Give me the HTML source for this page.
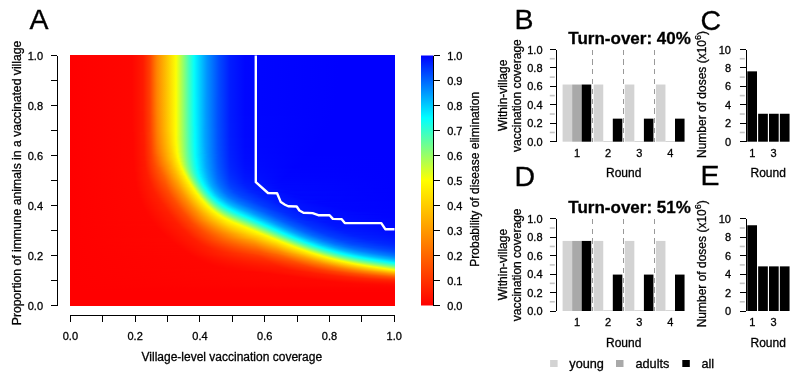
<!DOCTYPE html>
<html><head><meta charset="utf-8"><style>
html,body{margin:0;padding:0;background:#fff;width:800px;height:377px;overflow:hidden}
#hm{position:absolute;left:70px;top:55.2px;width:324.5px;height:250.4px;overflow:hidden}
#hm i{position:absolute;left:0;width:100%;display:block}
svg{position:absolute;left:0;top:0;will-change:transform}
text{font-family:"Liberation Sans",sans-serif;fill:#000;stroke:#000;stroke-width:0.3px}
</style></head><body>
<div id="hm"><i style="top:0px;height:1px;background:linear-gradient(90deg,#ff0000 0px,#ff0600 62px,#ff1a00 73px,#ff4100 80px,#ff7300 85px,#ff8500 87px,#fcff03 106px,#43ffbc 119px,#06fff9 124px,#00e6ff 127px,#0093ff 137px,#004aff 149px,#001cff 160px,#0006ff 175px,#0000ff 270px,#0000ff 324.5px)"></i><i style="top:1px;height:1px;background:linear-gradient(90deg,#ff0000 0px,#ff0600 62px,#ff1a00 73px,#ff4100 80px,#ff7300 85px,#ff8500 87px,#fcff03 106px,#43ffbc 119px,#06fff9 124px,#00e6ff 127px,#0093ff 137px,#004aff 149px,#001cff 160px,#0006ff 175px,#0000ff 270px,#0000ff 324.5px)"></i><i style="top:2px;height:1px;background:linear-gradient(90deg,#ff0000 0px,#ff0600 62px,#ff1a00 73px,#ff4100 80px,#ff7300 85px,#ff8500 87px,#fcff03 106px,#43ffbc 119px,#06fff9 124px,#00e6ff 127px,#0093ff 137px,#004aff 149px,#001cff 160px,#0006ff 175px,#0000ff 270px,#0000ff 324.5px)"></i><i style="top:3px;height:1px;background:linear-gradient(90deg,#ff0000 0px,#ff0600 62px,#ff1a00 73px,#ff4100 80px,#ff7300 85px,#ff8500 87px,#fcff03 106px,#43ffbc 119px,#06fff9 124px,#00e6ff 127px,#0093ff 137px,#004aff 149px,#001cff 160px,#0006ff 175px,#0000ff 270px,#0000ff 324.5px)"></i><i style="top:4px;height:1px;background:linear-gradient(90deg,#ff0000 0px,#ff0600 62px,#ff1a00 73px,#ff4100 80px,#ff7300 85px,#ff8500 87px,#fcff03 106px,#43ffbc 119px,#06fff9 124px,#00e6ff 127px,#0093ff 137px,#004aff 149px,#001cff 160px,#0006ff 175px,#0000ff 270px,#0000ff 324.5px)"></i><i style="top:5px;height:1px;background:linear-gradient(90deg,#ff0000 0px,#ff0600 62px,#ff1a00 73px,#ff4100 80px,#ff7300 85px,#ff8500 87px,#fcff03 106px,#43ffbc 119px,#06fff9 124px,#00e6ff 127px,#0093ff 137px,#004aff 149px,#001cff 160px,#0006ff 175px,#0000ff 270px,#0000ff 324.5px)"></i><i style="top:6px;height:1px;background:linear-gradient(90deg,#ff0000 0px,#ff0600 62px,#ff1a00 73px,#ff4100 80px,#ff7300 85px,#ff8500 87px,#fcff03 106px,#43ffbc 119px,#06fff9 124px,#00e6ff 127px,#0093ff 137px,#004aff 149px,#001cff 160px,#0006ff 175px,#0000ff 270px,#0000ff 324.5px)"></i><i style="top:7px;height:1px;background:linear-gradient(90deg,#ff0000 0px,#ff0600 62px,#ff1a00 73px,#ff4100 80px,#ff7300 85px,#ff8500 87px,#fcff03 106px,#43ffbc 119px,#06fff9 124px,#00e6ff 127px,#0093ff 137px,#004aff 149px,#001cff 160px,#0006ff 175px,#0000ff 270px,#0000ff 324.5px)"></i><i style="top:8px;height:1px;background:linear-gradient(90deg,#ff0000 0px,#ff0600 62px,#ff1a00 73px,#ff4100 80px,#ff7300 85px,#ff8500 87px,#fcff03 106px,#43ffbc 119px,#06fff9 124px,#00e6ff 127px,#0093ff 137px,#004aff 149px,#001cff 160px,#0006ff 175px,#0000ff 270px,#0000ff 324.5px)"></i><i style="top:9px;height:1px;background:linear-gradient(90deg,#ff0000 0px,#ff0600 62px,#ff1a00 73px,#ff4100 80px,#ff7300 85px,#ff8500 87px,#fcff03 106px,#43ffbc 119px,#06fff9 124px,#00e6ff 127px,#0093ff 137px,#004aff 149px,#001cff 160px,#0006ff 175px,#0000ff 270px,#0000ff 324.5px)"></i><i style="top:10px;height:1px;background:linear-gradient(90deg,#ff0000 0px,#ff0600 62px,#ff1a00 73px,#ff4100 80px,#ff7300 85px,#ff8500 87px,#fcff03 106px,#43ffbc 119px,#06fff9 124px,#00e6ff 127px,#0093ff 137px,#004aff 149px,#001cff 160px,#0006ff 175px,#0000ff 269px,#0000ff 324.5px)"></i><i style="top:11px;height:1px;background:linear-gradient(90deg,#ff0000 0px,#ff0600 62px,#ff1a00 73px,#ff4100 80px,#ff7300 85px,#ff8500 87px,#fcff03 106px,#43ffbc 119px,#06fff9 124px,#00e6ff 127px,#0093ff 137px,#004aff 149px,#001cff 160px,#0006ff 175px,#0000ff 269px,#0000ff 324.5px)"></i><i style="top:12px;height:1px;background:linear-gradient(90deg,#ff0000 0px,#ff0600 62px,#ff1a00 73px,#ff4100 80px,#ff7300 85px,#ff8500 87px,#fcff03 106px,#43ffbc 119px,#06fff9 124px,#00e6ff 127px,#0093ff 137px,#004aff 149px,#001cff 160px,#0006ff 175px,#0000ff 269px,#0000ff 324.5px)"></i><i style="top:13px;height:1px;background:linear-gradient(90deg,#ff0000 0px,#ff0600 62px,#ff1a00 73px,#ff4100 80px,#ff7300 85px,#ff8500 87px,#fcff03 106px,#43ffbc 119px,#06fff9 124px,#00e6ff 127px,#0093ff 137px,#004aff 149px,#001cff 160px,#0006ff 175px,#0000ff 269px,#0000ff 324.5px)"></i><i style="top:14px;height:1px;background:linear-gradient(90deg,#ff0000 0px,#ff0600 62px,#ff1a00 73px,#ff4100 80px,#ff7300 85px,#ff8500 87px,#fcff03 106px,#43ffbc 119px,#06fff9 124px,#00e6ff 127px,#0093ff 137px,#004aff 149px,#001cff 160px,#0006ff 175px,#0000ff 269px,#0000ff 324.5px)"></i><i style="top:15px;height:1px;background:linear-gradient(90deg,#ff0000 0px,#ff0600 62px,#ff1a00 73px,#ff4000 80px,#ff7300 85px,#ff8500 87px,#fcff03 106px,#43ffbc 119px,#06fff9 124px,#00e6ff 127px,#0093ff 137px,#004aff 149px,#001cff 160px,#0006ff 175px,#0000ff 269px,#0000ff 324.5px)"></i><i style="top:16px;height:1px;background:linear-gradient(90deg,#ff0000 0px,#ff0600 62px,#ff1a00 73px,#ff4000 80px,#ff7300 85px,#ff8500 87px,#fcff03 106px,#43ffbc 119px,#06fff9 124px,#00e6ff 127px,#0093ff 137px,#004aff 149px,#001cff 160px,#0006ff 175px,#0000ff 269px,#0000ff 324.5px)"></i><i style="top:17px;height:1px;background:linear-gradient(90deg,#ff0000 0px,#ff0600 62px,#ff1a00 73px,#ff4000 80px,#ff7300 85px,#ff8500 87px,#fcff03 106px,#43ffbc 119px,#06fff9 124px,#00e6ff 127px,#0093ff 137px,#004aff 149px,#001cff 160px,#0006ff 175px,#0000ff 269px,#0000ff 324.5px)"></i><i style="top:18px;height:1px;background:linear-gradient(90deg,#ff0000 0px,#ff0600 62px,#ff1a00 73px,#ff4000 80px,#ff7300 85px,#ff8500 87px,#fcff03 106px,#43ffbc 119px,#06fff9 124px,#00e6ff 127px,#0093ff 137px,#004aff 149px,#001cff 160px,#0006ff 175px,#0000ff 269px,#0000ff 324.5px)"></i><i style="top:19px;height:1px;background:linear-gradient(90deg,#ff0000 0px,#ff0600 62px,#ff1a00 73px,#ff4000 80px,#ff7300 85px,#ff8500 87px,#fcff03 106px,#43ffbc 119px,#06fff9 124px,#00e6ff 127px,#0093ff 137px,#004aff 149px,#001cff 160px,#0006ff 175px,#0000ff 269px,#0000ff 324.5px)"></i><i style="top:20px;height:1px;background:linear-gradient(90deg,#ff0000 0px,#ff0600 62px,#ff1a00 73px,#ff4000 80px,#ff7300 85px,#ff8500 87px,#fcff03 106px,#43ffbc 119px,#06fff9 124px,#00e6ff 127px,#0093ff 137px,#004aff 149px,#001cff 160px,#0006ff 175px,#0000ff 269px,#0000ff 324.5px)"></i><i style="top:21px;height:1px;background:linear-gradient(90deg,#ff0000 0px,#ff0600 62px,#ff1a00 73px,#ff4000 80px,#ff7300 85px,#ff8500 87px,#fcff03 106px,#43ffbc 119px,#06fff9 124px,#00e6ff 127px,#0093ff 137px,#004aff 149px,#001cff 160px,#0006ff 175px,#0000ff 269px,#0000ff 324.5px)"></i><i style="top:22px;height:1px;background:linear-gradient(90deg,#ff0000 0px,#ff0600 62px,#ff1a00 73px,#ff4000 80px,#ff7300 85px,#ff8500 87px,#fcff03 106px,#43ffbc 119px,#06fff9 124px,#00e6ff 127px,#0093ff 137px,#004aff 149px,#001cff 160px,#0006ff 175px,#0000ff 269px,#0000ff 324.5px)"></i><i style="top:23px;height:1px;background:linear-gradient(90deg,#ff0000 0px,#ff0600 62px,#ff1a00 73px,#ff4000 80px,#ff7300 85px,#ff8500 87px,#fcff03 106px,#43ffbc 119px,#06fff9 124px,#00e6ff 127px,#0093ff 137px,#004aff 149px,#001cff 160px,#0006ff 175px,#0000ff 269px,#0000ff 324.5px)"></i><i style="top:24px;height:1px;background:linear-gradient(90deg,#ff0000 0px,#ff0600 62px,#ff1a00 73px,#ff4000 80px,#ff7300 85px,#ff8500 87px,#fcff03 106px,#43ffbc 119px,#06fff9 124px,#00e6ff 127px,#0093ff 137px,#004aff 149px,#001cff 160px,#0006ff 175px,#0000ff 269px,#0000ff 324.5px)"></i><i style="top:25px;height:1px;background:linear-gradient(90deg,#ff0000 0px,#ff0600 62px,#ff1a00 73px,#ff4000 80px,#ff7300 85px,#ff8500 87px,#fcff03 106px,#43ffbc 119px,#06fff9 124px,#00e6ff 127px,#0093ff 137px,#004aff 149px,#001cff 160px,#0006ff 175px,#0000ff 269px,#0000ff 324.5px)"></i><i style="top:26px;height:1px;background:linear-gradient(90deg,#ff0000 0px,#ff0600 62px,#ff1a00 73px,#ff4000 80px,#ff7300 85px,#ff8500 87px,#fcff03 106px,#43ffbc 119px,#06fff9 124px,#00e6ff 127px,#0093ff 137px,#004aff 149px,#001cff 160px,#0006ff 175px,#0000ff 269px,#0000ff 324.5px)"></i><i style="top:27px;height:1px;background:linear-gradient(90deg,#ff0000 0px,#ff0600 62px,#ff1a00 73px,#ff4000 80px,#ff7200 85px,#ff8500 87px,#fcff03 106px,#43ffbc 119px,#06fff9 124px,#00e6ff 127px,#0093ff 137px,#004aff 149px,#001cff 160px,#0006ff 175px,#0000ff 269px,#0000ff 324.5px)"></i><i style="top:28px;height:1px;background:linear-gradient(90deg,#ff0000 0px,#ff0600 62px,#ff1a00 73px,#ff4000 80px,#ff7200 85px,#ff8400 87px,#fcff03 106px,#43ffbc 119px,#06fff9 124px,#00e6ff 127px,#0093ff 137px,#004aff 149px,#001cff 160px,#0006ff 175px,#0000ff 268px,#0000ff 324.5px)"></i><i style="top:29px;height:1px;background:linear-gradient(90deg,#ff0000 0px,#ff0600 62px,#ff1a00 73px,#ff4000 80px,#ff7200 85px,#ff8400 87px,#fcff03 106px,#43ffbc 119px,#06fff9 124px,#00e6ff 127px,#0093ff 137px,#004aff 149px,#001cff 160px,#0006ff 175px,#0000ff 268px,#0000ff 324.5px)"></i><i style="top:30px;height:1px;background:linear-gradient(90deg,#ff0000 0px,#ff0600 62px,#ff1a00 73px,#ff4000 80px,#ff7200 85px,#ff8400 87px,#fcff03 106px,#43ffbc 119px,#06fff9 124px,#00e6ff 127px,#0093ff 137px,#004aff 149px,#001cff 160px,#0006ff 175px,#0000ff 268px,#0000ff 324.5px)"></i><i style="top:31px;height:1px;background:linear-gradient(90deg,#ff0000 0px,#ff0600 62px,#ff1a00 73px,#ff4000 80px,#ff7200 85px,#ff8400 87px,#fcff03 106px,#43ffbc 119px,#06fff9 124px,#00e6ff 127px,#0093ff 137px,#004aff 149px,#001cff 160px,#0006ff 175px,#0000ff 268px,#0000ff 324.5px)"></i><i style="top:32px;height:1px;background:linear-gradient(90deg,#ff0000 0px,#ff0600 62px,#ff1a00 73px,#ff4000 80px,#ff7200 85px,#ff8400 87px,#fcff03 106px,#43ffbc 119px,#06fff9 124px,#00e6ff 127px,#0093ff 137px,#004aff 149px,#001cff 160px,#0006ff 175px,#0000ff 268px,#0000ff 324.5px)"></i><i style="top:33px;height:1px;background:linear-gradient(90deg,#ff0000 0px,#ff0600 62px,#ff1a00 73px,#ff4000 80px,#ff7200 85px,#ff8400 87px,#fcff03 106px,#43ffbc 119px,#06fff9 124px,#00e6ff 127px,#0093ff 137px,#004aff 149px,#001cff 160px,#0006ff 175px,#0000ff 268px,#0000ff 324.5px)"></i><i style="top:34px;height:1px;background:linear-gradient(90deg,#ff0000 0px,#ff0600 62px,#ff1a00 73px,#ff4000 80px,#ff7200 85px,#ff8400 87px,#fcff03 106px,#43ffbc 119px,#06fff9 124px,#00e6ff 127px,#0093ff 137px,#004aff 149px,#001cff 160px,#0006ff 175px,#0000ff 268px,#0000ff 324.5px)"></i><i style="top:35px;height:1px;background:linear-gradient(90deg,#ff0000 0px,#ff0600 62px,#ff1a00 73px,#ff4000 80px,#ff7200 85px,#ff8400 87px,#fcff03 106px,#43ffbc 119px,#06fff9 124px,#00e6ff 127px,#0093ff 137px,#004aff 149px,#001cff 160px,#0006ff 175px,#0000ff 268px,#0000ff 324.5px)"></i><i style="top:36px;height:1px;background:linear-gradient(90deg,#ff0000 0px,#ff0600 62px,#ff1a00 73px,#ff4000 80px,#ff7200 85px,#ff8400 87px,#fdff02 106px,#43ffbc 119px,#06fff9 124px,#00e6ff 127px,#0093ff 137px,#004aff 149px,#001cff 160px,#0006ff 175px,#0000ff 268px,#0000ff 324.5px)"></i><i style="top:37px;height:1px;background:linear-gradient(90deg,#ff0000 0px,#ff0600 62px,#ff1a00 73px,#ff4000 80px,#ff7200 85px,#ff8400 87px,#fdff02 106px,#43ffbc 119px,#06fff9 124px,#00e6ff 127px,#0093ff 137px,#004aff 149px,#001cff 160px,#0006ff 175px,#0000ff 268px,#0000ff 324.5px)"></i><i style="top:38px;height:1px;background:linear-gradient(90deg,#ff0000 0px,#ff0600 62px,#ff1a00 73px,#ff4000 80px,#ff7200 85px,#ff8400 87px,#fdff02 106px,#43ffbc 119px,#06fff9 124px,#00e6ff 127px,#0093ff 137px,#004aff 149px,#001cff 160px,#0006ff 175px,#0000ff 268px,#0000ff 324.5px)"></i><i style="top:39px;height:1px;background:linear-gradient(90deg,#ff0000 0px,#ff0600 62px,#ff1a00 73px,#ff4000 80px,#ff7200 85px,#ff8400 87px,#fdff02 106px,#43ffbc 119px,#06fff9 124px,#00e6ff 127px,#0093ff 137px,#004aff 149px,#001cff 160px,#0006ff 175px,#0000ff 267px,#0000ff 324.5px)"></i><i style="top:40px;height:1px;background:linear-gradient(90deg,#ff0000 0px,#ff0600 62px,#ff1a00 73px,#ff4000 80px,#ff7200 85px,#ff8400 87px,#fdff02 106px,#43ffbc 119px,#06fff9 124px,#00e6ff 127px,#0093ff 137px,#004aff 149px,#001cff 160px,#0006ff 175px,#0000ff 267px,#0000ff 324.5px)"></i><i style="top:41px;height:1px;background:linear-gradient(90deg,#ff0000 0px,#ff0600 62px,#ff1a00 73px,#ff4000 80px,#ff7200 85px,#ff8400 87px,#fdff02 106px,#43ffbc 119px,#06fff9 124px,#00e6ff 127px,#0093ff 137px,#004aff 149px,#001cff 160px,#0006ff 175px,#0000ff 267px,#0000ff 324.5px)"></i><i style="top:42px;height:1px;background:linear-gradient(90deg,#ff0000 0px,#ff0600 62px,#ff1a00 73px,#ff4000 80px,#ff7200 85px,#ff8400 87px,#fdff02 106px,#43ffbc 119px,#06fff9 124px,#00f0ff 126px,#009aff 136px,#004fff 148px,#001cff 160px,#0006ff 175px,#0000ff 267px,#0000ff 324.5px)"></i><i style="top:43px;height:1px;background:linear-gradient(90deg,#ff0000 0px,#ff0600 62px,#ff1a00 73px,#ff3f00 80px,#ff7200 85px,#ff8400 87px,#fdff02 106px,#43ffbc 119px,#06fff9 124px,#00f0ff 126px,#009aff 136px,#004fff 148px,#001cff 160px,#0006ff 175px,#0000ff 267px,#0000ff 324.5px)"></i><i style="top:44px;height:1px;background:linear-gradient(90deg,#ff0000 0px,#ff0600 62px,#ff1a00 73px,#ff3f00 80px,#ff7200 85px,#ff8400 87px,#fdff02 106px,#43ffbc 119px,#06fff9 124px,#00f0ff 126px,#009aff 136px,#004fff 148px,#001cff 160px,#0006ff 175px,#0000ff 267px,#0000ff 324.5px)"></i><i style="top:45px;height:1px;background:linear-gradient(90deg,#ff0000 0px,#ff0600 62px,#ff1a00 73px,#ff3f00 80px,#ff7200 85px,#ff8400 87px,#fdff02 106px,#43ffbc 119px,#06fff9 124px,#00f0ff 126px,#009aff 136px,#004fff 148px,#001cff 160px,#0006ff 175px,#0000ff 267px,#0000ff 324.5px)"></i><i style="top:46px;height:1px;background:linear-gradient(90deg,#ff0000 0px,#ff0600 62px,#ff1a00 73px,#ff3f00 80px,#ff7200 85px,#ff8400 87px,#fdff02 106px,#43ffbc 119px,#06fff9 124px,#00f0ff 126px,#009aff 136px,#004fff 148px,#001cff 160px,#0006ff 175px,#0000ff 266px,#0000ff 324.5px)"></i><i style="top:47px;height:1px;background:linear-gradient(90deg,#ff0000 0px,#ff0600 62px,#ff1a00 73px,#ff3f00 80px,#ff7100 85px,#ff8400 87px,#fdff02 106px,#43ffbc 119px,#06fff9 124px,#00f0ff 126px,#009aff 136px,#004fff 148px,#001cff 160px,#0006ff 175px,#0000ff 266px,#0000ff 324.5px)"></i><i style="top:48px;height:1px;background:linear-gradient(90deg,#ff0000 0px,#ff0600 62px,#ff1a00 73px,#ff3f00 80px,#ff7100 85px,#ff8300 87px,#fdff02 106px,#43ffbc 119px,#06fff9 124px,#00f0ff 126px,#009aff 136px,#004fff 148px,#001cff 160px,#0006ff 175px,#0000ff 266px,#0000ff 324.5px)"></i><i style="top:49px;height:1px;background:linear-gradient(90deg,#ff0000 0px,#ff0600 62px,#ff1a00 73px,#ff3f00 80px,#ff7100 85px,#ff8300 87px,#fdff02 106px,#43ffbc 119px,#06fff9 124px,#00f0ff 126px,#009aff 136px,#004fff 148px,#001cff 160px,#0006ff 175px,#0000ff 266px,#0000ff 324.5px)"></i><i style="top:50px;height:1px;background:linear-gradient(90deg,#ff0000 0px,#ff0600 62px,#ff1a00 73px,#ff3f00 80px,#ff7100 85px,#ff8300 87px,#fdff02 106px,#43ffbc 119px,#06fff9 124px,#00f0ff 126px,#009aff 136px,#004fff 148px,#001cff 160px,#0006ff 175px,#0000ff 266px,#0000ff 324.5px)"></i><i style="top:51px;height:1px;background:linear-gradient(90deg,#ff0000 0px,#ff0600 62px,#ff1a00 73px,#ff3f00 80px,#ff7100 85px,#ff8300 87px,#fdff02 106px,#43ffbc 119px,#06fff9 124px,#00f0ff 126px,#009aff 136px,#004fff 148px,#001cff 160px,#0006ff 175px,#0000ff 265px,#0000ff 324.5px)"></i><i style="top:52px;height:1px;background:linear-gradient(90deg,#ff0000 0px,#ff0600 62px,#ff1a00 73px,#ff3f00 80px,#ff7100 85px,#ff8300 87px,#fdff02 106px,#43ffbc 119px,#06fff9 124px,#00f0ff 126px,#009aff 136px,#004fff 148px,#001cff 160px,#0006ff 175px,#0000ff 265px,#0000ff 324.5px)"></i><i style="top:53px;height:1px;background:linear-gradient(90deg,#ff0000 0px,#ff0600 62px,#ff1a00 73px,#ff3f00 80px,#ff7100 85px,#ff8300 87px,#fdff02 106px,#43ffbc 119px,#06fff9 124px,#00f0ff 126px,#009aff 136px,#004fff 148px,#001cff 160px,#0006ff 175px,#0000ff 265px,#0000ff 324.5px)"></i><i style="top:54px;height:1px;background:linear-gradient(90deg,#ff0000 0px,#ff0600 62px,#ff1a00 73px,#ff3f00 80px,#ff7000 85px,#ff8300 87px,#fdff02 106px,#43ffbc 119px,#06fff9 124px,#00f0ff 126px,#009aff 136px,#004fff 148px,#001cff 160px,#0006ff 175px,#0000ff 265px,#0000ff 324.5px)"></i><i style="top:55px;height:1px;background:linear-gradient(90deg,#ff0000 0px,#ff0600 62px,#ff1a00 73px,#ff3f00 80px,#ff7000 85px,#ff8300 87px,#fdff02 106px,#43ffbc 119px,#06fff9 124px,#00f0ff 126px,#009aff 136px,#004fff 148px,#001cff 160px,#0006ff 175px,#0000ff 264px,#0000ff 324.5px)"></i><i style="top:56px;height:1px;background:linear-gradient(90deg,#ff0000 0px,#ff0600 62px,#ff1900 73px,#ff3f00 80px,#ff7000 85px,#ff8200 87px,#fdff02 106px,#44ffbb 119px,#06fff9 124px,#00f0ff 126px,#009aff 136px,#004fff 148px,#001cff 160px,#0006ff 175px,#0000ff 264px,#0000ff 324.5px)"></i><i style="top:57px;height:1px;background:linear-gradient(90deg,#ff0000 0px,#ff0600 62px,#ff1900 73px,#ff3f00 80px,#ff7000 85px,#ff8200 87px,#fdff02 106px,#44ffbb 119px,#07fff8 124px,#00f0ff 126px,#009aff 136px,#004fff 148px,#001cff 160px,#0006ff 175px,#0000ff 264px,#0000ff 324.5px)"></i><i style="top:58px;height:1px;background:linear-gradient(90deg,#ff0000 0px,#ff0600 62px,#ff1900 73px,#ff3f00 80px,#ff7000 85px,#ff8200 87px,#fdff02 106px,#44ffbb 119px,#07fff8 124px,#00f0ff 126px,#009aff 136px,#004fff 148px,#001cff 160px,#0006ff 175px,#0000ff 264px,#0000ff 324.5px)"></i><i style="top:59px;height:1px;background:linear-gradient(90deg,#ff0000 0px,#ff0600 62px,#ff1900 73px,#ff3e00 80px,#ff6f00 85px,#ff8200 87px,#feff01 106px,#44ffbb 119px,#07fff8 124px,#00f0ff 126px,#009aff 136px,#004fff 148px,#001cff 160px,#0006ff 175px,#0000ff 263px,#0000ff 324.5px)"></i><i style="top:60px;height:1px;background:linear-gradient(90deg,#ff0000 0px,#ff0600 62px,#ff1900 73px,#ff3e00 80px,#ff8200 87px,#feff01 106px,#44ffbb 119px,#07fff8 124px,#00f1ff 126px,#009aff 136px,#004fff 148px,#001cff 160px,#0006ff 175px,#0000ff 263px,#0000ff 324.5px)"></i><i style="top:61px;height:1px;background:linear-gradient(90deg,#ff0000 0px,#ff0600 62px,#ff1900 73px,#ff3e00 80px,#ff8100 87px,#feff01 106px,#44ffbb 119px,#07fff8 124px,#00f1ff 126px,#009aff 136px,#004fff 148px,#001cff 160px,#0007ff 175px,#0000ff 263px,#0000ff 324.5px)"></i><i style="top:62px;height:1px;background:linear-gradient(90deg,#ff0000 0px,#ff0600 62px,#ff1900 73px,#ff3e00 80px,#ff8100 87px,#feff01 106px,#44ffbb 119px,#07fff8 124px,#00f1ff 126px,#009aff 136px,#004fff 148px,#001cff 160px,#0007ff 175px,#0000ff 262px,#0000ff 324.5px)"></i><i style="top:63px;height:1px;background:linear-gradient(90deg,#ff0000 0px,#ff0600 62px,#ff1900 73px,#ff3e00 80px,#ff8100 87px,#feff01 106px,#44ffbb 119px,#07fff8 124px,#00f1ff 126px,#009bff 136px,#004fff 148px,#001cff 160px,#0007ff 175px,#0000ff 262px,#0000ff 324.5px)"></i><i style="top:64px;height:1px;background:linear-gradient(90deg,#ff0000 0px,#ff0600 62px,#ff1900 73px,#ff3e00 80px,#ff8000 87px,#feff01 106px,#44ffbb 119px,#07fff8 124px,#00f1ff 126px,#009bff 136px,#004fff 148px,#001cff 160px,#0007ff 175px,#0000ff 262px,#0000ff 324.5px)"></i><i style="top:65px;height:1px;background:linear-gradient(90deg,#ff0000 0px,#ff0600 62px,#ff1900 73px,#ff3e00 80px,#ff8000 87px,#feff01 106px,#44ffbb 119px,#07fff8 124px,#00f1ff 126px,#009bff 136px,#004fff 148px,#001cff 160px,#0007ff 175px,#0000ff 261px,#0000ff 324.5px)"></i><i style="top:66px;height:1px;background:linear-gradient(90deg,#ff0000 0px,#ff0600 62px,#ff1900 73px,#ff3e00 80px,#ff8000 87px,#feff01 106px,#44ffbb 119px,#07fff8 124px,#00f1ff 126px,#009bff 136px,#004fff 148px,#001cff 160px,#0007ff 175px,#0000ff 261px,#0000ff 324.5px)"></i><i style="top:67px;height:1px;background:linear-gradient(90deg,#ff0000 0px,#ff0600 62px,#ff1900 73px,#ff3e00 80px,#ff8000 87px,#feff01 106px,#44ffbb 119px,#07fff8 124px,#00f1ff 126px,#009bff 136px,#004fff 148px,#001cff 160px,#0007ff 175px,#0000ff 261px,#0000ff 324.5px)"></i><i style="top:68px;height:1px;background:linear-gradient(90deg,#ff0000 0px,#ff0600 62px,#ff1900 73px,#ff3d00 80px,#ff7f00 87px,#ffff00 106px,#44ffbb 119px,#07fff8 124px,#00f1ff 126px,#009bff 136px,#004fff 148px,#001dff 160px,#0007ff 175px,#0000ff 260px,#0000ff 324.5px)"></i><i style="top:69px;height:1px;background:linear-gradient(90deg,#ff0000 0px,#ff0600 62px,#ff1900 73px,#ff3d00 80px,#ff7f00 87px,#ffff00 106px,#44ffbb 119px,#07fff8 124px,#00f1ff 126px,#009bff 136px,#004fff 148px,#001dff 160px,#0007ff 175px,#0000ff 260px,#0000ff 324.5px)"></i><i style="top:70px;height:1px;background:linear-gradient(90deg,#ff0000 0px,#ff0600 62px,#ff1900 73px,#ff3d00 80px,#ff7f00 87px,#ffff00 106px,#45ffba 119px,#07fff8 124px,#00f1ff 126px,#009bff 136px,#004fff 148px,#001dff 160px,#0007ff 175px,#0000ff 259px,#0000ff 324.5px)"></i><i style="top:71px;height:1px;background:linear-gradient(90deg,#ff0000 0px,#ff0600 62px,#ff1900 73px,#ff3d00 80px,#ff7f00 87px,#ffff00 106px,#45ffba 119px,#00fcff 125px,#00a2ff 135px,#004fff 148px,#001dff 160px,#0007ff 175px,#0000ff 259px,#0000ff 324.5px)"></i><i style="top:72px;height:1px;background:linear-gradient(90deg,#ff0000 0px,#ff0600 62px,#ff1900 73px,#ff3d00 80px,#ff7e00 87px,#ffff00 106px,#45ffba 119px,#00fcff 125px,#00a2ff 135px,#004fff 148px,#001dff 160px,#0007ff 175px,#0000ff 258px,#0000ff 324.5px)"></i><i style="top:73px;height:1px;background:linear-gradient(90deg,#ff0000 0px,#ff0600 62px,#ff1900 73px,#ff3d00 80px,#ff7e00 87px,#ffff00 106px,#45ffba 119px,#00fcff 125px,#00a2ff 135px,#0050ff 148px,#001dff 160px,#0007ff 175px,#0000ff 258px,#0000ff 324.5px)"></i><i style="top:74px;height:1px;background:linear-gradient(90deg,#ff0000 0px,#ff0600 62px,#ff1900 73px,#ff3d00 80px,#ff7e00 87px,#ffff00 106px,#45ffba 119px,#00fcff 125px,#00a3ff 135px,#0050ff 148px,#001dff 160px,#0007ff 175px,#0000ff 257px,#0000ff 324.5px)"></i><i style="top:75px;height:1px;background:linear-gradient(90deg,#ff0000 0px,#ff0600 62px,#ff1800 73px,#ff3c00 80px,#ff7d00 87px,#fffe00 106px,#45ffba 119px,#00fcff 125px,#00a3ff 135px,#0050ff 148px,#001dff 160px,#0007ff 175px,#0000ff 257px,#0000ff 324.5px)"></i><i style="top:76px;height:1px;background:linear-gradient(90deg,#ff0000 0px,#ff0600 62px,#ff1800 73px,#ff3c00 80px,#ff7d00 87px,#fff700 105px,#fffe00 106px,#39ffc6 120px,#00fcff 125px,#00a3ff 135px,#0050ff 148px,#001dff 160px,#0007ff 175px,#0000ff 256px,#0000ff 324.5px)"></i><i style="top:77px;height:1px;background:linear-gradient(90deg,#ff0000 0px,#ff0600 63px,#ff1c00 74px,#ff4400 81px,#ff7c00 87px,#ffe800 103px,#fffe00 106px,#39ffc6 120px,#00fcff 125px,#00a3ff 135px,#0050ff 148px,#001dff 160px,#0007ff 175px,#0000ff 256px,#0000ff 324.5px)"></i><i style="top:78px;height:1px;background:linear-gradient(90deg,#ff0000 0px,#ff0600 63px,#ff1c00 74px,#ff4400 81px,#ff7c00 87px,#ffe100 102px,#fffe00 106px,#39ffc6 120px,#00fdff 125px,#00a3ff 135px,#0050ff 148px,#001dff 160px,#0007ff 175px,#0000ff 255px,#0000ff 324.5px)"></i><i style="top:79px;height:1px;background:linear-gradient(90deg,#ff0000 0px,#ff0600 63px,#ff1c00 74px,#ff4300 81px,#ff7b00 87px,#ffd900 101px,#fffe00 106px,#39ffc6 120px,#00fdff 125px,#00a3ff 135px,#0050ff 148px,#001dff 160px,#0007ff 175px,#0000ff 254px,#0000ff 324.5px)"></i><i style="top:80px;height:1px;background:linear-gradient(90deg,#ff0000 0px,#ff0600 63px,#ff1b00 74px,#ff4300 81px,#ff7b00 87px,#ffd900 101px,#fffe00 106px,#39ffc6 120px,#00fdff 125px,#00a3ff 135px,#0050ff 148px,#001dff 160px,#0007ff 175px,#0000ff 254px,#0000ff 324.5px)"></i><i style="top:81px;height:1px;background:linear-gradient(90deg,#ff0000 0px,#ff0600 63px,#ff1b00 74px,#ff4300 81px,#ff7a00 87px,#ffd100 100px,#fffd00 106px,#39ffc6 120px,#00fdff 125px,#00a3ff 135px,#0050ff 148px,#001dff 160px,#0007ff 175px,#0000ff 253px,#0000ff 324.5px)"></i><i style="top:82px;height:1px;background:linear-gradient(90deg,#ff0000 0px,#ff0600 63px,#ff1b00 74px,#ff4300 81px,#ff7a00 87px,#ffd100 100px,#fffd00 106px,#3affc5 120px,#00fdff 125px,#00a3ff 135px,#0050ff 148px,#001dff 160px,#0007ff 175px,#0000ff 252px,#0000ff 324.5px)"></i><i style="top:83px;height:1px;background:linear-gradient(90deg,#ff0000 0px,#ff0600 63px,#ff1b00 74px,#ff4200 81px,#ff7900 87px,#ffd000 100px,#fffd00 106px,#2dffd2 121px,#00fdff 125px,#00a4ff 135px,#0050ff 148px,#001eff 160px,#0008ff 175px,#0000ff 252px,#0000ff 324.5px)"></i><i style="top:84px;height:1px;background:linear-gradient(90deg,#ff0000 0px,#ff0600 63px,#ff1b00 74px,#ff4200 81px,#ff7900 87px,#ffc800 99px,#fffd00 106px,#2effd1 121px,#00feff 125px,#00a4ff 135px,#0051ff 148px,#001eff 160px,#0008ff 175px,#0000ff 251px,#0000ff 324.5px)"></i><i style="top:85px;height:1px;background:linear-gradient(90deg,#ff0000 0px,#ff0600 63px,#ff1b00 74px,#ff4200 81px,#ff7800 87px,#ffc800 99px,#fffc00 106px,#d6ff29 109px,#3bffc4 120px,#00feff 125px,#00a4ff 135px,#0051ff 148px,#001eff 160px,#0008ff 175px,#0000ff 250px,#0000ff 324.5px)"></i><i style="top:86px;height:1px;background:linear-gradient(90deg,#ff0000 0px,#ff0600 63px,#ff1b00 74px,#ff4100 81px,#ff7700 87px,#ffcf00 100px,#fffc00 106px,#e6ff19 108px,#3bffc4 120px,#00feff 125px,#00a4ff 135px,#0051ff 148px,#001eff 160px,#0008ff 175px,#0000ff 249px,#0000ff 324.5px)"></i><i style="top:87px;height:1px;background:linear-gradient(90deg,#ff0000 0px,#ff0600 63px,#ff1b00 74px,#ff4100 81px,#ff7700 87px,#ffce00 100px,#fffb00 106px,#e7ff18 108px,#48ffb7 119px,#00feff 125px,#00a4ff 135px,#0051ff 148px,#001eff 160px,#0008ff 175px,#0000ff 249px,#0000ff 324.5px)"></i><i style="top:88px;height:1px;background:linear-gradient(90deg,#ff0000 0px,#ff0600 63px,#ff1b00 74px,#ff4100 81px,#ff7600 87px,#ffcd00 100px,#fffb00 106px,#e8ff17 108px,#49ffb6 119px,#00ffff 125px,#00a5ff 135px,#0051ff 148px,#001eff 160px,#0008ff 175px,#0000ff 248px,#0000ff 324.5px)"></i><i style="top:89px;height:1px;background:linear-gradient(90deg,#ff0000 0px,#ff0600 63px,#ff1a00 74px,#ff4000 81px,#ff7500 87px,#ffcc00 100px,#fffa00 106px,#f8ff07 107px,#49ffb6 119px,#00ffff 125px,#00a5ff 135px,#0051ff 148px,#001eff 160px,#0008ff 175px,#0000ff 247px,#0000ff 324.5px)"></i><i style="top:90px;height:1px;background:linear-gradient(90deg,#ff0000 0px,#ff0600 63px,#ff1a00 74px,#ff4000 81px,#ff7400 87px,#ffcb00 100px,#fffa00 106px,#f9ff06 107px,#49ffb6 119px,#00ffff 125px,#00a5ff 135px,#0051ff 148px,#001eff 160px,#0008ff 175px,#0000ff 246px,#0000ff 324.5px)"></i><i style="top:91px;height:1px;background:linear-gradient(90deg,#ff0000 0px,#ff0600 63px,#ff1a00 74px,#ff3f00 81px,#ff7300 87px,#ffca00 100px,#fbff04 107px,#57ffa8 118px,#01fffe 125px,#00a5ff 135px,#0052ff 148px,#001fff 160px,#0008ff 175px,#0000ff 245px,#0000ff 324.5px)"></i><i style="top:92px;height:1px;background:linear-gradient(90deg,#ff0000 0px,#ff0600 63px,#ff1a00 74px,#ff3f00 81px,#ff7200 87px,#ffd000 101px,#fcff03 107px,#58ffa7 118px,#01fffe 125px,#009eff 136px,#0052ff 148px,#001fff 160px,#0008ff 175px,#0000ff 244px,#0000ff 324.5px)"></i><i style="top:93px;height:1px;background:linear-gradient(90deg,#ff0000 0px,#ff0600 63px,#ff1a00 74px,#ff3f00 81px,#ff7200 87px,#ffcf00 101px,#fdff02 107px,#58ffa7 118px,#02fffd 125px,#009eff 136px,#0052ff 148px,#001fff 160px,#0009ff 175px,#0000ff 244px,#0000ff 324.5px)"></i><i style="top:94px;height:1px;background:linear-gradient(90deg,#ff0000 0px,#ff0600 63px,#ff1a00 74px,#ff3e00 81px,#ff7000 87px,#ffcd00 101px,#ffff00 107px,#59ffa6 118px,#02fffd 125px,#009fff 136px,#0052ff 148px,#001fff 160px,#0009ff 175px,#0000ff 243px,#0000ff 324.5px)"></i><i style="top:95px;height:1px;background:linear-gradient(90deg,#ff0000 0px,#ff0600 63px,#ff1900 74px,#ff3e00 81px,#ff6f00 87px,#ffd400 102px,#fffe00 107px,#4cffb3 119px,#03fffc 125px,#009fff 136px,#0052ff 148px,#001fff 160px,#0009ff 175px,#0000ff 242px,#0000ff 324.5px)"></i><i style="top:96px;height:1px;background:linear-gradient(90deg,#ff0000 0px,#ff0600 63px,#ff1900 74px,#ff3d00 81px,#ff6e00 87px,#ffd300 102px,#fffd00 107px,#4dffb2 119px,#03fffc 125px,#0098ff 137px,#0053ff 148px,#0020ff 160px,#0009ff 175px,#0000ff 241px,#0000ff 324.5px)"></i><i style="top:97px;height:1px;background:linear-gradient(90deg,#ff0000 0px,#ff0600 63px,#ff1900 74px,#ff3d00 81px,#ff6d00 87px,#ffd100 102px,#fffc00 107px,#d3ff2c 110px,#41ffbe 120px,#04fffb 125px,#0098ff 137px,#0053ff 148px,#0020ff 160px,#0009ff 175px,#0000ff 240px,#0000ff 324.5px)"></i><i style="top:98px;height:1px;background:linear-gradient(90deg,#ff0000 0px,#ff0600 63px,#ff1900 74px,#ff3c00 81px,#ff6c00 87px,#ffce00 102px,#fffb00 107px,#f7ff08 108px,#5dffa2 118px,#04fffb 125px,#00a8ff 135px,#0058ff 147px,#0020ff 160px,#0009ff 175px,#0000ff 239px,#0000ff 324.5px)"></i><i style="top:99px;height:1px;background:linear-gradient(90deg,#ff0000 0px,#ff0600 63px,#ff1900 74px,#ff3b00 81px,#ff7000 88px,#ffd500 103px,#fff900 107px,#f9ff06 108px,#6cff93 117px,#05fffa 125px,#00dcff 129px,#008cff 139px,#004fff 149px,#0020ff 160px,#000aff 175px,#0000ff 238px,#0000ff 324.5px)"></i><i style="top:100px;height:1px;background:linear-gradient(90deg,#ff0000 0px,#ff0600 63px,#ff1900 74px,#ff3b00 81px,#ff6f00 88px,#ffdc00 104px,#fcff03 108px,#6dff92 117px,#06fff9 125px,#00e6ff 128px,#0093ff 138px,#004fff 149px,#0021ff 160px,#000aff 175px,#0000ff 237px,#0000ff 324.5px)"></i><i style="top:101px;height:1px;background:linear-gradient(90deg,#ff0000 0px,#ff0600 63px,#ff1800 74px,#ff3a00 81px,#ff7300 89px,#ffda00 104px,#ffff00 108px,#6eff91 117px,#07fff8 125px,#00f1ff 127px,#009aff 137px,#0054ff 148px,#0021ff 160px,#000aff 175px,#0001ff 236px,#0000ff 324.5px)"></i><i style="top:102px;height:1px;background:linear-gradient(90deg,#ff0000 0px,#ff0600 63px,#ff1800 74px,#ff3a00 81px,#ff7700 90px,#ffe000 105px,#fffd00 108px,#54ffab 119px,#08fff7 125px,#00f1ff 127px,#009bff 137px,#0055ff 148px,#0021ff 160px,#000aff 175px,#0001ff 235px,#0000ff 324.5px)"></i><i style="top:103px;height:1px;background:linear-gradient(90deg,#ff0000 0px,#ff0600 63px,#ff1800 74px,#ff3900 81px,#ffdd00 105px,#fffa00 108px,#f6ff09 109px,#72ff8d 117px,#09fff6 125px,#00fdff 126px,#00a3ff 136px,#0055ff 148px,#0022ff 160px,#000aff 175px,#0001ff 234px,#0000ff 324.5px)"></i><i style="top:104px;height:1px;background:linear-gradient(90deg,#ff0000 0px,#ff0600 63px,#ff1800 74px,#ff3f00 82px,#ffdb00 105px,#faff05 109px,#74ff8b 117px,#0afff5 125px,#00feff 126px,#00abff 135px,#005aff 147px,#0022ff 160px,#000bff 175px,#0001ff 233px,#0000ff 324.5px)"></i><i style="top:105px;height:1px;background:linear-gradient(90deg,#ff0000 0px,#ff0600 64px,#ff1b00 75px,#ff4500 83px,#ffca00 103px,#ffff00 109px,#86ff79 116px,#17ffe8 124px,#00ffff 126px,#00acff 135px,#005bff 147px,#0022ff 160px,#000bff 175px,#0001ff 232px,#0000ff 324.5px)"></i><i style="top:106px;height:1px;background:linear-gradient(90deg,#ff0000 0px,#ff0600 64px,#ff1a00 75px,#ff4400 83px,#ffc000 102px,#fff200 108px,#fffc00 109px,#6aff95 118px,#01fffe 126px,#00a5ff 136px,#0056ff 148px,#0023ff 160px,#000bff 175px,#0001ff 231px,#0000ff 324.5px)"></i><i style="top:107px;height:1px;background:linear-gradient(90deg,#ff0000 0px,#ff0600 64px,#ff1a00 75px,#ff4900 84px,#ffb600 101px,#ffef00 108px,#fff900 109px,#f7ff08 110px,#7cff83 117px,#0efff1 125px,#03fffc 126px,#009eff 137px,#0057ff 148px,#0023ff 160px,#000cff 175px,#0001ff 230px,#0000ff 324.5px)"></i><i style="top:108px;height:1px;background:linear-gradient(90deg,#ff0000 0px,#ff0600 64px,#ff1a00 75px,#ff4700 84px,#ffb400 101px,#ffea00 108px,#fdff02 110px,#7fff80 117px,#0ffff0 125px,#00f8ff 127px,#00a6ff 136px,#0057ff 148px,#0024ff 160px,#000cff 175px,#0001ff 229px,#0000ff 324.5px)"></i><i style="top:109px;height:1px;background:linear-gradient(90deg,#ff0000 0px,#ff0600 64px,#ff1900 75px,#ff4600 84px,#ffaa00 100px,#fff100 109px,#fffc00 110px,#72ff8d 118px,#11ffee 125px,#00faff 127px,#00a7ff 136px,#0058ff 148px,#0024ff 160px,#000cff 175px,#0001ff 228px,#0000ff 324.5px)"></i><i style="top:110px;height:1px;background:linear-gradient(90deg,#ff0000 0px,#ff0600 64px,#ff1900 75px,#ff4a00 85px,#ffa700 100px,#ffec00 109px,#f7ff08 111px,#86ff79 117px,#20ffdf 124px,#00fbff 127px,#00a8ff 136px,#0059ff 148px,#0025ff 160px,#000dff 175px,#0001ff 226px,#0000ff 324.5px)"></i><i style="top:111px;height:1px;background:linear-gradient(90deg,#ff0000 0px,#ff0600 64px,#ff1900 75px,#ff4800 85px,#ffa400 100px,#fff300 110px,#fffe00 111px,#8bff74 117px,#22ffdd 124px,#00fdff 127px,#00a9ff 136px,#0059ff 148px,#0025ff 160px,#000dff 175px,#0001ff 225px,#0000ff 324.5px)"></i><i style="top:112px;height:1px;background:linear-gradient(90deg,#ff0000 0px,#ff0600 64px,#ff1c00 76px,#ff6100 90px,#ffc600 105px,#fff900 111px,#f4ff0b 112px,#90ff6f 117px,#25ffda 124px,#00ffff 127px,#00aaff 136px,#005aff 148px,#0026ff 160px,#000eff 175px,#0001ff 224px,#0000ff 324.5px)"></i><i style="top:113px;height:1px;background:linear-gradient(90deg,#ff0000 0px,#ff0600 64px,#ff1b00 76px,#ff5f00 90px,#ffc300 105px,#fff400 111px,#feff01 112px,#96ff69 117px,#35ffca 123px,#03fffc 127px,#00a4ff 137px,#005bff 148px,#0027ff 160px,#000eff 175px,#0002ff 223px,#0000ff 324.5px)"></i><i style="top:114px;height:1px;background:linear-gradient(90deg,#ff0000 0px,#ff0600 64px,#ff1b00 76px,#ff5d00 90px,#ffb800 104px,#fffa00 112px,#f1ff0e 113px,#8aff75 118px,#2bffd4 124px,#05fffa 127px,#00d9ff 131px,#0088ff 141px,#0052ff 150px,#0025ff 161px,#000dff 177px,#0001ff 233px,#0000ff 324.5px)"></i><i style="top:115px;height:1px;background:linear-gradient(90deg,#ff0000 0px,#ff0600 64px,#ff1a00 76px,#ff5a00 90px,#ffb500 104px,#fff400 112px,#fcff03 113px,#90ff6f 118px,#2effd1 124px,#00fbff 128px,#00aeff 136px,#0062ff 147px,#0028ff 160px,#000fff 175px,#0002ff 221px,#0000ff 324.5px)"></i><i style="top:116px;height:1px;background:linear-gradient(90deg,#ff0000 0px,#ff0600 64px,#ff1a00 76px,#ff5800 90px,#ffb100 104px,#ffee00 112px,#fffa00 113px,#f0ff0f 114px,#84ff7b 119px,#25ffda 125px,#00feff 128px,#00b0ff 136px,#0063ff 147px,#0029ff 160px,#0010ff 175px,#0002ff 220px,#0000ff 324.5px)"></i><i style="top:117px;height:1px;background:linear-gradient(90deg,#ff0000 0px,#ff0600 65px,#ff1c00 77px,#ff6600 93px,#ffcc00 108px,#fcff03 114px,#8dff72 119px,#37ffc8 124px,#03fffc 128px,#00aaff 137px,#005fff 148px,#002aff 160px,#0010ff 175px,#0002ff 219px,#0000ff 324.5px)"></i><i style="top:118px;height:1px;background:linear-gradient(90deg,#ff0000 0px,#ff0600 65px,#ff1c00 77px,#ff5e00 92px,#ffb900 106px,#fffa00 114px,#f0ff0f 115px,#82ff7d 120px,#2dffd2 125px,#06fff9 128px,#00eeff 130px,#00a4ff 138px,#0060ff 148px,#002bff 160px,#0011ff 175px,#0003ff 218px,#0000ff 324.5px)"></i><i style="top:119px;height:1px;background:linear-gradient(90deg,#ff0000 0px,#ff0600 65px,#ff1b00 77px,#ff5b00 92px,#ffb500 106px,#fdff02 115px,#8bff74 120px,#33ffcc 125px,#00fdff 129px,#00aeff 137px,#0067ff 147px,#002cff 160px,#0012ff 175px,#0003ff 217px,#0000ff 324.5px)"></i><i style="top:120px;height:1px;background:linear-gradient(90deg,#ff0000 0px,#ff0600 65px,#ff1d00 78px,#ff6300 94px,#ffc000 108px,#fff900 115px,#f1ff0e 116px,#80ff7f 121px,#2affd5 126px,#02fffd 129px,#00a8ff 138px,#0063ff 148px,#002dff 160px,#0013ff 175px,#0003ff 216px,#0000ff 324.5px)"></i><i style="top:121px;height:1px;background:linear-gradient(90deg,#ff0000 0px,#ff0600 65px,#ff1d00 78px,#ff6100 94px,#ffbd00 108px,#fff200 115px,#ffff00 116px,#8aff75 121px,#30ffcf 126px,#06fff9 129px,#00edff 131px,#00a2ff 139px,#0065ff 148px,#002fff 160px,#0013ff 175px,#0003ff 215px,#0000ff 324.5px)"></i><i style="top:122px;height:1px;background:linear-gradient(90deg,#ff0000 0px,#ff0600 65px,#ff1c00 78px,#ff5e00 94px,#ffb900 108px,#fff800 116px,#f4ff0b 117px,#80ff7f 122px,#27ffd8 127px,#00feff 130px,#00b5ff 137px,#006cff 147px,#0030ff 160px,#0014ff 175px,#0004ff 214px,#0000ff 324.5px)"></i><i style="top:123px;height:1px;background:linear-gradient(90deg,#ff0000 0px,#ff0600 65px,#ff1e00 79px,#ff6100 95px,#ffbc00 109px,#fffd00 117px,#76ff89 123px,#1fffe0 128px,#04fffb 130px,#00a8ff 139px,#0068ff 148px,#0031ff 160px,#0015ff 175px,#0004ff 213px,#0000ff 324.5px)"></i><i style="top:124px;height:1px;background:linear-gradient(90deg,#ff0000 0px,#ff0600 65px,#ff1d00 79px,#ff5e00 95px,#ffb800 109px,#fff600 117px,#f8ff07 118px,#81ff7e 123px,#26ffd9 128px,#00fbff 131px,#00b3ff 138px,#0070ff 147px,#0033ff 160px,#0016ff 175px,#0005ff 212px,#0000ff 324.5px)"></i><i style="top:125px;height:1px;background:linear-gradient(90deg,#ff0000 0px,#ff0600 65px,#ff1c00 79px,#ff5b00 95px,#ffac00 108px,#fffb00 118px,#d4ff2b 120px,#64ff9b 125px,#10ffef 130px,#02fffd 131px,#00aeff 139px,#006cff 148px,#0035ff 160px,#0018ff 175px,#0005ff 211px,#0001ff 324.5px)"></i><i style="top:126px;height:1px;background:linear-gradient(90deg,#ff0000 0px,#ff0600 66px,#ff1e00 80px,#ff5800 95px,#ffa800 108px,#fdff02 119px,#84ff7b 124px,#27ffd8 129px,#00fbff 132px,#00b1ff 139px,#006fff 148px,#0037ff 160px,#0019ff 175px,#0006ff 210px,#0001ff 324.5px)"></i><i style="top:127px;height:1px;background:linear-gradient(90deg,#ff0000 0px,#ff0600 66px,#ff1d00 80px,#ff5600 95px,#ffa400 108px,#fff800 119px,#f3ff0c 120px,#7bff84 125px,#20ffdf 130px,#03fffc 132px,#00adff 140px,#0071ff 148px,#0039ff 160px,#001aff 175px,#0006ff 209px,#0001ff 324.5px)"></i><i style="top:128px;height:1px;background:linear-gradient(90deg,#ff0000 0px,#ff0600 66px,#ff1c00 80px,#ff5300 95px,#ffa000 108px,#fffd00 120px,#73ff8c 126px,#19ffe6 131px,#00fcff 133px,#00b9ff 139px,#007aff 147px,#003eff 159px,#001eff 173px,#0008ff 204px,#0001ff 324.5px)"></i><i style="top:129px;height:1px;background:linear-gradient(90deg,#ff0000 0px,#ff0600 66px,#ff1e00 81px,#ff5500 96px,#ffa300 109px,#fff600 120px,#f9ff06 121px,#80ff7f 126px,#22ffdd 131px,#04fffb 133px,#00a3ff 142px,#006cff 150px,#003aff 161px,#001bff 177px,#0006ff 212px,#0001ff 324.5px)"></i><i style="top:130px;height:1px;background:linear-gradient(90deg,#ff0000 0px,#ff0600 66px,#ff1d00 81px,#ff5200 96px,#ff9f00 109px,#fff900 121px,#f0ff0f 122px,#79ff86 127px,#1cffe3 132px,#00feff 134px,#00b0ff 141px,#0075ff 149px,#0040ff 160px,#001fff 175px,#0008ff 207px,#0001ff 324.5px)"></i><i style="top:131px;height:1px;background:linear-gradient(90deg,#ff0000 0px,#ff0600 66px,#ff1c00 81px,#ff5000 96px,#ff9b00 109px,#fffe00 122px,#71ff8e 128px,#17ffe8 133px,#00f9ff 135px,#00acff 142px,#0073ff 150px,#003fff 161px,#001eff 177px,#0008ff 210px,#0001ff 324.5px)"></i><i style="top:132px;height:1px;background:linear-gradient(90deg,#ff0000 0px,#ff0600 67px,#ff1e00 82px,#ff5100 97px,#ff9d00 110px,#fff700 122px,#f9ff06 123px,#80ff7f 128px,#21ffde 133px,#03fffc 135px,#00a9ff 143px,#0071ff 151px,#0042ff 161px,#0020ff 177px,#0008ff 209px,#0001ff 324.5px)"></i><i style="top:133px;height:1px;background:linear-gradient(90deg,#ff0000 0px,#ff0600 67px,#ff1f00 83px,#ff4f00 97px,#ff9900 110px,#fff900 123px,#f0ff0f 124px,#79ff86 129px,#1cffe3 134px,#00fdff 136px,#00afff 143px,#0075ff 151px,#0045ff 161px,#0022ff 177px,#0009ff 208px,#0001ff 314px,#0001ff 324.5px)"></i><i style="top:134px;height:1px;background:linear-gradient(90deg,#ff0000 0px,#ff0600 67px,#ff1e00 83px,#ff4c00 97px,#ff9400 110px,#fffd00 124px,#72ff8d 130px,#17ffe8 135px,#00f9ff 137px,#00acff 144px,#006eff 153px,#0042ff 163px,#001eff 181px,#0008ff 215px,#0001ff 324.5px)"></i><i style="top:135px;height:1px;background:linear-gradient(90deg,#ff0000 0px,#ff0600 67px,#ff1d00 83px,#ff4e00 98px,#ff9700 111px,#fff700 124px,#fbff04 125px,#82ff7d 130px,#23ffdc 135px,#04fffb 137px,#00a9ff 145px,#0067ff 155px,#003dff 166px,#001aff 186px,#0006ff 224px,#0001ff 324.5px)"></i><i style="top:136px;height:1px;background:linear-gradient(90deg,#ff0000 0px,#ff0600 68px,#ff1e00 84px,#ff4b00 98px,#ff9200 111px,#fff900 125px,#f3ff0c 126px,#7cff83 131px,#1fffe0 136px,#01fffe 138px,#00b0ff 145px,#0071ff 154px,#0046ff 164px,#0021ff 182px,#0009ff 215px,#0001ff 324.5px)"></i><i style="top:137px;height:1px;background:linear-gradient(90deg,#ff0000 0px,#ff0600 68px,#ff1f00 85px,#ff4d00 99px,#ff9500 112px,#fffb00 126px,#d3ff2c 128px,#62ff9d 133px,#0cfff3 138px,#00fdff 139px,#00b8ff 145px,#0076ff 154px,#004aff 164px,#0023ff 182px,#000aff 213px,#0001ff 311px,#0001ff 324.5px)"></i><i style="top:138px;height:1px;background:linear-gradient(90deg,#ff0000 0px,#ff0600 68px,#ff1e00 85px,#ff4a00 99px,#ff9000 112px,#ffff00 127px,#72ff8d 133px,#18ffe7 138px,#00fbff 140px,#00b6ff 146px,#0070ff 156px,#0045ff 167px,#001fff 187px,#0008ff 221px,#0001ff 324.5px)"></i><i style="top:139px;height:1px;background:linear-gradient(90deg,#ff0000 0px,#ff0600 69px,#ff1f00 86px,#ff4b00 100px,#ff9200 113px,#fff800 127px,#f9ff06 128px,#6eff91 134px,#16ffe9 139px,#00f8ff 141px,#00b6ff 147px,#0071ff 157px,#0044ff 169px,#001dff 190px,#0007ff 225px,#0001ff 324.5px)"></i><i style="top:140px;height:1px;background:linear-gradient(90deg,#ff0000 0px,#ff0600 69px,#ff2000 87px,#ff4d00 101px,#ff9400 114px,#fff900 128px,#f4ff0b 129px,#6bff94 135px,#14ffeb 140px,#06fff9 141px,#00deff 144px,#00a5ff 150px,#006dff 159px,#0040ff 172px,#001bff 194px,#0006ff 231px,#0001ff 324.5px)"></i><i style="top:141px;height:1px;background:linear-gradient(90deg,#ff0000 0px,#ff0600 69px,#ff1f00 87px,#ff4a00 101px,#ff9000 114px,#fffb00 129px,#d6ff29 131px,#68ff97 136px,#13ffec 141px,#04fffb 142px,#00b6ff 149px,#0078ff 158px,#004aff 170px,#0021ff 191px,#0009ff 224px,#0001ff 324.5px)"></i><i style="top:142px;height:1px;background:linear-gradient(90deg,#ff0000 0px,#ff0600 69px,#ff2000 88px,#ff4b00 102px,#ff9200 115px,#fffd00 130px,#65ff9a 137px,#12ffed 142px,#04fffb 143px,#00b7ff 150px,#007aff 159px,#0049ff 172px,#0020ff 193px,#0009ff 226px,#0001ff 324.5px)"></i><i style="top:143px;height:1px;background:linear-gradient(90deg,#ff0000 0px,#ff0600 70px,#ff2000 89px,#ff4c00 103px,#ff9300 116px,#feff01 131px,#77ff88 137px,#20ffdf 142px,#04fffb 144px,#00b1ff 152px,#0077ff 161px,#0046ff 175px,#001eff 197px,#0008ff 231px,#0001ff 324.5px)"></i><i style="top:144px;height:1px;background:linear-gradient(90deg,#ff0000 0px,#ff0600 70px,#ff1f00 89px,#ff4a00 103px,#ff8f00 116px,#fff800 131px,#faff05 132px,#76ff89 138px,#20ffdf 143px,#04fffb 145px,#00abff 154px,#0076ff 163px,#0043ff 178px,#001cff 200px,#0007ff 235px,#0001ff 324.5px)"></i><i style="top:145px;height:1px;background:linear-gradient(90deg,#ff0000 0px,#ff0600 71px,#ff2200 91px,#ff4f00 105px,#ff9700 118px,#fff900 132px,#f7ff08 133px,#75ff8a 139px,#21ffde 144px,#05fffa 146px,#00e2ff 149px,#009fff 157px,#0068ff 168px,#0035ff 186px,#0013ff 211px,#0004ff 259px,#0001ff 324.5px)"></i><i style="top:146px;height:1px;background:linear-gradient(90deg,#ff0000 0px,#ff0600 71px,#ff2100 91px,#ff4c00 105px,#ff9200 118px,#fffa00 133px,#f5ff0a 134px,#75ff8a 140px,#22ffdd 145px,#07fff8 147px,#00efff 149px,#00a9ff 157px,#006fff 168px,#0039ff 186px,#0016ff 210px,#0004ff 253px,#0002ff 324.5px)"></i><i style="top:147px;height:1px;background:linear-gradient(90deg,#ff0000 0px,#ff0600 71px,#ff1f00 91px,#ff4900 105px,#ff8d00 118px,#fffb00 134px,#f3ff0c 135px,#75ff8a 141px,#24ffdb 146px,#00feff 149px,#00b4ff 157px,#007cff 167px,#0042ff 184px,#001cff 206px,#0007ff 242px,#0002ff 324.5px)"></i><i style="top:148px;height:1px;background:linear-gradient(90deg,#ff0000 0px,#ff0600 72px,#ff2200 93px,#ff4e00 107px,#ff9500 120px,#fffb00 135px,#f1ff0e 136px,#76ff89 142px,#27ffd8 147px,#02fffd 150px,#00b2ff 159px,#0077ff 170px,#003dff 188px,#0018ff 211px,#0005ff 251px,#0002ff 324.5px)"></i><i style="top:149px;height:1px;background:linear-gradient(90deg,#ff0000 0px,#ff0600 72px,#ff2000 93px,#ff4b00 107px,#ff9000 120px,#fffc00 136px,#dbff24 138px,#67ff98 144px,#1effe1 149px,#00fbff 152px,#00b7ff 160px,#0077ff 172px,#003dff 190px,#0018ff 213px,#0006ff 253px,#0002ff 324.5px)"></i><i style="top:150px;height:1px;background:linear-gradient(90deg,#ff0000 0px,#ff0600 73px,#ff2100 94px,#ff4c00 108px,#ff9100 121px,#fffc00 137px,#dcff23 139px,#6aff95 145px,#17ffe8 151px,#01fffe 153px,#00b6ff 162px,#0073ff 175px,#003aff 193px,#0017ff 216px,#0005ff 258px,#0002ff 324.5px)"></i><i style="top:151px;height:1px;background:linear-gradient(90deg,#ff0000 0px,#ff0600 73px,#ff2000 94px,#ff4900 108px,#ff8c00 121px,#fffc00 138px,#f2ff0d 139px,#7eff81 145px,#28ffd7 151px,#00fcff 155px,#00b5ff 164px,#006fff 178px,#003aff 195px,#0017ff 218px,#0005ff 260px,#0002ff 324.5px)"></i><i style="top:152px;height:1px;background:linear-gradient(90deg,#ff0000 0px,#ff0600 74px,#ff2200 96px,#ff4e00 110px,#ff9300 123px,#fffc00 139px,#f4ff0b 140px,#83ff7c 146px,#2effd1 152px,#03fffc 156px,#00afff 167px,#0068ff 182px,#0036ff 199px,#0015ff 222px,#0005ff 268px,#0002ff 324.5px)"></i><i style="top:153px;height:1px;background:linear-gradient(90deg,#ff0000 0px,#ff0600 74px,#ff2100 96px,#ff4a00 110px,#ff8e00 123px,#fffb00 140px,#f6ff09 141px,#88ff77 147px,#35ffca 153px,#01fffe 158px,#00b0ff 169px,#0068ff 184px,#0036ff 201px,#0015ff 224px,#0005ff 270px,#0002ff 324.5px)"></i><i style="top:154px;height:1px;background:linear-gradient(90deg,#ff0000 0px,#ff0600 75px,#ff2100 97px,#ff4b00 111px,#ff9500 125px,#fffa00 141px,#f9ff06 142px,#8eff71 148px,#31ffce 155px,#00ffff 160px,#00b1ff 171px,#0068ff 186px,#0036ff 203px,#0015ff 226px,#0005ff 273px,#0003ff 324.5px)"></i><i style="top:155px;height:1px;background:linear-gradient(90deg,#ff0000 0px,#ff0600 75px,#ff2000 97px,#ff4800 111px,#ff9000 125px,#fdff02 143px,#95ff6a 149px,#39ffc6 156px,#00ffff 162px,#00acff 174px,#0065ff 189px,#0031ff 207px,#0013ff 231px,#0004ff 284px,#0003ff 324.5px)"></i><i style="top:156px;height:1px;background:linear-gradient(90deg,#ff0000 0px,#ff0600 76px,#ff2000 98px,#ff4900 112px,#ff9000 126px,#fffe00 144px,#80ff7f 152px,#2effd1 159px,#01fffe 164px,#00a8ff 177px,#0061ff 192px,#002fff 210px,#0012ff 234px,#0004ff 290px,#0003ff 324.5px)"></i><i style="top:157px;height:1px;background:linear-gradient(90deg,#ff0000 0px,#ff0600 76px,#ff1e00 98px,#ff4900 113px,#ff9100 127px,#fffc00 145px,#f6ff09 146px,#88ff77 153px,#2effd1 161px,#02fffd 166px,#0098ff 182px,#0057ff 197px,#0029ff 215px,#000fff 241px,#0003ff 311px,#0003ff 324.5px)"></i><i style="top:158px;height:1px;background:linear-gradient(90deg,#ff0000 0px,#ff0600 77px,#ff1f00 99px,#ff4a00 114px,#ff9100 128px,#fdff02 147px,#92ff6d 154px,#38ffc7 162px,#04fffb 168px,#0093ff 185px,#0053ff 200px,#0028ff 218px,#000eff 245px,#0003ff 323px,#0003ff 324.5px)"></i><i style="top:159px;height:1px;background:linear-gradient(90deg,#ff0000 0px,#ff0600 77px,#ff1f00 100px,#ff4a00 115px,#ff9800 130px,#fffd00 148px,#83ff7c 157px,#27ffd8 166px,#00fdff 171px,#009fff 185px,#005eff 199px,#002fff 216px,#0012ff 240px,#0004ff 297px,#0003ff 324.5px)"></i><i style="top:160px;height:1px;background:linear-gradient(90deg,#ff0000 0px,#ff0600 78px,#ff1f00 101px,#ff4b00 116px,#ff9800 131px,#fffb00 149px,#fdff02 150px,#9bff64 157px,#3cffc3 166px,#01fffe 173px,#009aff 188px,#0057ff 203px,#002bff 220px,#0010ff 246px,#0004ff 314px,#0004ff 324.5px)"></i><i style="top:161px;height:1px;background:linear-gradient(90deg,#ff0000 0px,#ff0600 79px,#ff2000 102px,#ff4b00 117px,#ff9d00 133px,#fffd00 151px,#e9ff16 153px,#84ff7b 161px,#1cffe3 172px,#00faff 176px,#009bff 190px,#0057ff 205px,#002bff 222px,#0010ff 248px,#0004ff 317px,#0004ff 324.5px)"></i><i style="top:162px;height:1px;background:linear-gradient(90deg,#ff0000 0px,#ff0600 79px,#ff1e00 102px,#ff4800 117px,#ff9700 133px,#fff500 151px,#fffe00 153px,#86ff79 163px,#0efff1 176px,#00fdff 178px,#009cff 192px,#0057ff 207px,#002bff 224px,#0010ff 250px,#0004ff 319px,#0004ff 324.5px)"></i><i style="top:163px;height:1px;background:linear-gradient(90deg,#ff0000 0px,#ff0600 80px,#ff1e00 103px,#ff4800 118px,#ff9d00 135px,#fff700 153px,#ffff00 155px,#89ff76 165px,#08fff7 179px,#00ffff 180px,#00a3ff 193px,#005fff 207px,#0031ff 223px,#0014ff 247px,#0006ff 302px,#0005ff 324.5px)"></i><i style="top:164px;height:1px;background:linear-gradient(90deg,#ff0000 0px,#ff0600 81px,#ff1f00 104px,#ff4900 119px,#ffa100 137px,#fff700 155px,#ffff00 157px,#82ff7d 168px,#02fffd 182px,#0098ff 197px,#0057ff 211px,#002cff 228px,#0011ff 254px,#0005ff 324.5px)"></i><i style="top:165px;height:1px;background:linear-gradient(90deg,#ff0000 0px,#ff0700 82px,#ff1f00 105px,#ff4900 120px,#ffab00 140px,#fffb00 158px,#ffff00 159px,#69ff96 173px,#05fffa 184px,#00cdff 191px,#0079ff 205px,#0044ff 219px,#0020ff 238px,#000bff 272px,#0005ff 324.5px)"></i><i style="top:166px;height:1px;background:linear-gradient(90deg,#ff0000 0px,#ff0600 82px,#ff1d00 105px,#ff4500 120px,#ff9f00 139px,#fff000 157px,#fffe00 161px,#3dffc2 180px,#00fdff 187px,#00a0ff 200px,#005fff 213px,#0032ff 229px,#0015ff 253px,#0006ff 309px,#0006ff 324.5px)"></i><i style="top:167px;height:1px;background:linear-gradient(90deg,#ff0000 0px,#ff0600 83px,#ff1d00 106px,#ff4500 121px,#ffe500 156px,#fffd00 163px,#efff10 165px,#2dffd2 184px,#01fffe 189px,#00a1ff 202px,#0060ff 215px,#0032ff 231px,#0015ff 255px,#0007ff 311px,#0006ff 324.5px)"></i><i style="top:168px;height:1px;background:linear-gradient(90deg,#ff0000 0px,#ff0600 84px,#ff1d00 107px,#ff4500 122px,#ffe100 157px,#ffff00 166px,#30ffcf 186px,#03fffc 191px,#0096ff 206px,#0059ff 219px,#002dff 236px,#0012ff 263px,#0006ff 324.5px)"></i><i style="top:169px;height:1px;background:linear-gradient(90deg,#ff0000 0px,#ff0700 85px,#ff1d00 108px,#ff4500 123px,#ffd900 157px,#fffe00 168px,#c3ff3c 174px,#17ffe8 191px,#00fbff 194px,#009cff 207px,#005dff 220px,#0031ff 236px,#0015ff 261px,#0007ff 323px,#0007ff 324.5px)"></i><i style="top:170px;height:1px;background:linear-gradient(90deg,#ff0000 0px,#ff0700 86px,#ff1e00 109px,#ff4900 125px,#ffd500 158px,#feff01 171px,#2cffd3 191px,#00feff 196px,#009dff 209px,#005eff 222px,#0032ff 238px,#0015ff 263px,#0008ff 324.5px)"></i><i style="top:171px;height:1px;background:linear-gradient(90deg,#ff0000 0px,#ff0600 86px,#ff1e00 110px,#ff4900 126px,#ffd000 159px,#fffd00 173px,#d8ff27 177px,#25ffda 194px,#01fffe 198px,#009eff 211px,#005eff 224px,#0033ff 240px,#0016ff 265px,#0008ff 324.5px)"></i><i style="top:172px;height:1px;background:linear-gradient(90deg,#ff0000 0px,#ff0600 87px,#ff1e00 111px,#ff4800 127px,#ffcc00 160px,#ffff00 176px,#32ffcd 195px,#03fffc 200px,#0099ff 214px,#005cff 227px,#0032ff 243px,#0015ff 269px,#0009ff 324.5px)"></i><i style="top:173px;height:1px;background:linear-gradient(90deg,#ff0000 0px,#ff0600 88px,#ff1e00 112px,#ff4800 128px,#ffc700 161px,#fffd00 178px,#e3ff1c 181px,#2bffd4 198px,#00fcff 203px,#00a1ff 215px,#0064ff 227px,#0036ff 243px,#0019ff 267px,#0009ff 324.5px)"></i><i style="top:174px;height:1px;background:linear-gradient(90deg,#ff0000 0px,#ff0600 89px,#ff1d00 113px,#ff4700 129px,#ffc300 162px,#ffff00 181px,#38ffc7 199px,#00feff 205px,#00a8ff 216px,#0069ff 228px,#003bff 243px,#001cff 266px,#000bff 315px,#000aff 324.5px)"></i><i style="top:175px;height:1px;background:linear-gradient(90deg,#ff0000 0px,#ff0600 90px,#ff1d00 114px,#ff4a00 131px,#ffbe00 163px,#fffd00 183px,#d6ff29 187px,#27ffd8 203px,#01fffe 207px,#00a4ff 219px,#0067ff 231px,#0038ff 247px,#001aff 271px,#000bff 324.5px)"></i><i style="top:176px;height:1px;background:linear-gradient(90deg,#ff0000 0px,#ff0600 91px,#ff1d00 115px,#ff4900 132px,#ffb900 164px,#feff01 186px,#34ffcb 204px,#04fffb 209px,#009fff 222px,#0060ff 235px,#0036ff 251px,#0019ff 277px,#000cff 324.5px)"></i><i style="top:177px;height:1px;background:linear-gradient(90deg,#ff0000 0px,#ff0600 92px,#ff1d00 116px,#ff4c00 134px,#ffb600 166px,#fffe00 188px,#19ffe6 209px,#00fcff 212px,#00a7ff 223px,#006aff 235px,#003bff 251px,#001dff 275px,#000dff 324.5px)"></i><i style="top:178px;height:1px;background:linear-gradient(90deg,#ff0000 0px,#ff0600 93px,#ff1d00 117px,#ff4b00 135px,#ffb400 168px,#fdff02 191px,#30ffcf 209px,#00ffff 214px,#00aaff 225px,#006cff 237px,#003dff 253px,#001eff 277px,#000eff 324.5px)"></i><i style="top:179px;height:1px;background:linear-gradient(90deg,#ff0000 0px,#ff0600 94px,#ff1d00 118px,#ff4d00 137px,#ffb700 172px,#fffe00 193px,#29ffd6 212px,#03fffc 216px,#00a0ff 229px,#0062ff 242px,#0037ff 259px,#001bff 286px,#000fff 324.5px)"></i><i style="top:180px;height:1px;background:linear-gradient(90deg,#ff0000 0px,#ff0600 95px,#ff1d00 119px,#ff4e00 139px,#ffe100 188px,#fcff03 196px,#37ffc8 213px,#00fcff 219px,#00a8ff 230px,#006cff 242px,#003eff 258px,#0020ff 282px,#0011ff 324.5px)"></i><i style="top:181px;height:1px;background:linear-gradient(90deg,#ff0000 0px,#ff0600 96px,#ff1c00 120px,#ff5000 141px,#ffd400 187px,#fffe00 198px,#30ffcf 216px,#00ffff 221px,#00abff 232px,#006fff 244px,#0040ff 260px,#0022ff 284px,#0012ff 324.5px)"></i><i style="top:182px;height:1px;background:linear-gradient(90deg,#ff0000 0px,#ff0600 97px,#ff1c00 121px,#ff5100 143px,#ffcb00 187px,#fbff04 201px,#49ffb6 216px,#04fffb 223px,#00a2ff 236px,#0066ff 249px,#003bff 266px,#001fff 293px,#0014ff 324.5px)"></i><i style="top:183px;height:1px;background:linear-gradient(90deg,#ff0000 0px,#ff0700 99px,#ff1d00 123px,#ff5f00 150px,#ffbe00 186px,#fffe00 203px,#43ffbc 219px,#00feff 226px,#00acff 237px,#006dff 250px,#003fff 267px,#0022ff 293px,#0016ff 324.5px)"></i><i style="top:184px;height:1px;background:linear-gradient(90deg,#ff0000 0px,#ff0700 100px,#ff1d00 124px,#ffa200 180px,#fff400 203px,#faff05 206px,#48ffb7 221px,#03fffc 228px,#00a4ff 241px,#0069ff 254px,#003eff 271px,#0022ff 298px,#0018ff 324.5px)"></i><i style="top:185px;height:1px;background:linear-gradient(90deg,#ff0000 0px,#ff0700 101px,#ff1e00 126px,#ffa500 184px,#fff600 206px,#ffff00 208px,#4dffb2 223px,#00feff 231px,#00aeff 242px,#0070ff 255px,#0043ff 272px,#0026ff 298px,#001aff 324.5px)"></i><i style="top:186px;height:1px;background:linear-gradient(90deg,#ff0000 0px,#ff0700 102px,#ff1d00 127px,#ff9c00 184px,#ffeb00 206px,#fffc00 210px,#edff12 212px,#48ffb7 226px,#05fffa 233px,#00cdff 240px,#0088ff 252px,#0055ff 267px,#0032ff 288px,#001cff 324.5px)"></i><i style="top:187px;height:1px;background:linear-gradient(90deg,#ff0000 0px,#ff0600 103px,#ff1d00 128px,#ff9600 185px,#ffe000 206px,#ffff00 213px,#4effb1 228px,#02fffd 236px,#00abff 248px,#0070ff 261px,#0045ff 278px,#0028ff 306px,#001fff 324.5px)"></i><i style="top:188px;height:1px;background:linear-gradient(90deg,#ff0000 0px,#ff0700 105px,#ff1e00 130px,#ff8d00 185px,#ffd500 206px,#fffc00 215px,#edff12 217px,#54ffab 230px,#00feff 239px,#00b1ff 250px,#0075ff 263px,#0049ff 280px,#002aff 309px,#0022ff 324.5px)"></i><i style="top:189px;height:1px;background:linear-gradient(90deg,#ff0000 0px,#ff0700 106px,#ff1f00 132px,#ff8400 185px,#ffca00 206px,#fffe00 218px,#51ffae 233px,#00fcff 242px,#00b1ff 253px,#0076ff 266px,#004bff 283px,#002bff 314px,#0025ff 324.5px)"></i><i style="top:190px;height:1px;background:linear-gradient(90deg,#ff0000 0px,#ff0600 107px,#ff1e00 133px,#ff7f00 186px,#ffbf00 206px,#fcff03 221px,#59ffa6 235px,#05fffa 244px,#00c9ff 252px,#0087ff 265px,#0058ff 281px,#0035ff 307px,#0029ff 324.5px)"></i><i style="top:191px;height:1px;background:linear-gradient(90deg,#ff0000 0px,#ff0600 108px,#ff1e00 135px,#ff7600 186px,#ffb400 206px,#fffd00 223px,#d3ff2c 227px,#4cffb3 239px,#04fffb 247px,#00a8ff 261px,#0071ff 275px,#004aff 294px,#002dff 324.5px)"></i><i style="top:192px;height:1px;background:linear-gradient(90deg,#ff0000 0px,#ff0700 110px,#ff2000 138px,#ff7100 187px,#ffad00 207px,#fffe00 226px,#5fffa0 240px,#04fffb 250px,#00a5ff 265px,#006eff 280px,#0048ff 301px,#0032ff 324.5px)"></i><i style="top:193px;height:1px;background:linear-gradient(90deg,#ff0000 0px,#ff0600 111px,#ff2000 140px,#ff6900 187px,#ffa200 207px,#fdff02 229px,#69ff96 242px,#05fffa 253px,#00e7ff 257px,#00a3ff 269px,#0070ff 284px,#0047ff 308px,#0037ff 324.5px)"></i><i style="top:194px;height:1px;background:linear-gradient(90deg,#ff0000 0px,#ff0600 112px,#ff2100 142px,#ff6300 188px,#ff9b00 208px,#fbff04 232px,#68ff97 245px,#07fff8 256px,#00f7ff 258px,#00b0ff 270px,#0079ff 285px,#004fff 308px,#003dff 324.5px)"></i><i style="top:195px;height:1px;background:linear-gradient(90deg,#ff0000 0px,#ff0700 114px,#ff2300 146px,#ff5c00 188px,#ff9000 208px,#ffee00 231px,#fffc00 234px,#eeff11 236px,#5fffa0 249px,#02fffd 260px,#00b0ff 274px,#007cff 289px,#004fff 314px,#0044ff 324.5px)"></i><i style="top:196px;height:1px;background:linear-gradient(90deg,#ff0000 0px,#ff0600 115px,#ff2400 149px,#ff5600 189px,#ff8c00 210px,#ffea00 233px,#fffd00 237px,#e2ff1d 240px,#58ffa7 253px,#00feff 264px,#00b5ff 277px,#0081ff 292px,#0054ff 317px,#004bff 324.5px)"></i><i style="top:197px;height:1px;background:linear-gradient(90deg,#ff0000 0px,#ff0700 117px,#ff2800 156px,#ff5300 191px,#ff8800 212px,#ffe500 235px,#fffd00 240px,#e2ff1d 243px,#5bffa4 256px,#04fffb 267px,#00aeff 283px,#007cff 300px,#0053ff 324.5px)"></i><i style="top:198px;height:1px;background:linear-gradient(90deg,#ff0000 0px,#ff0600 118px,#ff3200 170px,#ff5700 197px,#ff8e00 217px,#fff700 242px,#fbff04 244px,#72ff8d 257px,#10ffef 269px,#00fbff 272px,#00b9ff 285px,#0083ff 303px,#005dff 324.5px)"></i><i style="top:199px;height:1px;background:linear-gradient(90deg,#ff0000 0px,#ff0700 120px,#ff3b00 183px,#ff6300 206px,#ffa800 227px,#fdff02 247px,#77ff88 260px,#17ffe8 272px,#00fcff 276px,#00bdff 289px,#0083ff 309px,#0067ff 324.5px)"></i><i style="top:200px;height:1px;background:linear-gradient(90deg,#ff0000 0px,#ff0600 121px,#ff3b00 188px,#ff6700 211px,#ffaf00 232px,#fffe00 250px,#6bff94 265px,#11ffee 277px,#00ffff 280px,#00bfff 294px,#0084ff 315px,#0072ff 324.5px)"></i><i style="top:201px;height:1px;background:linear-gradient(90deg,#ff0000 0px,#ff0600 123px,#ff3800 190px,#ff6300 213px,#ffa900 234px,#fffc00 253px,#e5ff1a 256px,#6aff95 269px,#15ffea 281px,#00fdff 285px,#00bbff 301px,#0082ff 323px,#0080ff 324.5px)"></i><i style="top:202px;height:1px;background:linear-gradient(90deg,#ff0000 0px,#ff0600 125px,#ff3400 191px,#ff5d00 214px,#ff9f00 235px,#fffe00 257px,#73ff8c 272px,#19ffe6 285px,#00feff 290px,#00b9ff 308px,#008eff 324.5px)"></i><i style="top:203px;height:1px;background:linear-gradient(90deg,#ff0000 0px,#ff0600 126px,#ff3100 193px,#ff5b00 217px,#ff9d00 238px,#fdff02 261px,#7dff82 275px,#25ffda 288px,#00fdff 296px,#00b7ff 315px,#009eff 324.5px)"></i><i style="top:204px;height:1px;background:linear-gradient(90deg,#ff0000 0px,#ff0600 128px,#ff2e00 194px,#ff5500 218px,#ff9700 240px,#fcff03 265px,#81ff7e 279px,#2dffd2 292px,#00fdff 302px,#00b7ff 322px,#00b1ff 324.5px)"></i><i style="top:205px;height:1px;background:linear-gradient(90deg,#ff0000 0px,#ff0600 130px,#ff2b00 196px,#ff5300 221px,#ff9400 243px,#fdff02 269px,#87ff78 283px,#32ffcd 297px,#00feff 308px,#00c5ff 324.5px)"></i><i style="top:206px;height:1px;background:linear-gradient(90deg,#ff0000 0px,#ff0600 132px,#ff2800 198px,#ff4e00 223px,#ff8d00 245px,#ffff00 273px,#89ff76 288px,#29ffd6 305px,#00fdff 315px,#00dbff 324.5px)"></i><i style="top:207px;height:1px;background:linear-gradient(90deg,#ff0000 0px,#ff0600 134px,#ff2600 200px,#ff4c00 226px,#ff8a00 248px,#fcff03 278px,#93ff6c 292px,#30ffcf 310px,#00fdff 322px,#00f4ff 324.5px)"></i><i style="top:208px;height:1px;background:linear-gradient(90deg,#ff0000 0px,#ff0600 137px,#ff2300 202px,#ff4800 228px,#ff8600 251px,#fcff03 283px,#94ff6b 298px,#30ffcf 317px,#10ffef 324.5px)"></i><i style="top:209px;height:1px;background:linear-gradient(90deg,#ff0000 0px,#ff0600 139px,#ff2100 204px,#ff4500 231px,#ff8100 254px,#feff01 288px,#84ff7b 307px,#2effd1 324.5px)"></i><i style="top:210px;height:1px;background:linear-gradient(90deg,#ff0000 0px,#ff0600 142px,#ff1e00 206px,#ff4200 234px,#ff7f00 258px,#fdff02 294px,#83ff7c 314px,#4fffb0 324.5px)"></i><i style="top:211px;height:1px;background:linear-gradient(90deg,#ff0000 0px,#ff0600 145px,#ff1c00 208px,#ff4000 237px,#ff7d00 262px,#ffff00 300px,#7fff80 322px,#72ff8d 324.5px)"></i><i style="top:212px;height:1px;background:linear-gradient(90deg,#ff0000 0px,#ff0600 149px,#ff1a00 211px,#ff3c00 240px,#ff7700 265px,#fdff02 307px,#98ff67 324.5px)"></i><i style="top:213px;height:1px;background:linear-gradient(90deg,#ff0000 0px,#ff0600 153px,#ff1900 214px,#ff3b00 244px,#ff7600 270px,#fcff03 314px,#c0ff3f 324.5px)"></i><i style="top:214px;height:1px;background:linear-gradient(90deg,#ff0000 0px,#ff0700 158px,#ff1700 217px,#ff3900 248px,#ff7700 276px,#feff01 321px,#eaff15 324.5px)"></i><i style="top:215px;height:1px;background:linear-gradient(90deg,#ff0000 0px,#ff0700 166px,#ff1700 222px,#ff3a00 254px,#ff7e00 285px,#fff200 324.5px)"></i><i style="top:216px;height:1px;background:linear-gradient(90deg,#ff0000 0px,#ff0700 179px,#ff1900 231px,#ff3f00 263px,#ff9400 301px,#ffd800 324.5px)"></i><i style="top:217px;height:1px;background:linear-gradient(90deg,#ff0000 0px,#ff0700 189px,#ff1b00 239px,#ff4400 272px,#ff9600 310px,#ffbf00 324.5px)"></i><i style="top:218px;height:1px;background:linear-gradient(90deg,#ff0000 0px,#ff0800 198px,#ff1c00 246px,#ff4800 281px,#ff8f00 316px,#ffa600 324.5px)"></i><i style="top:219px;height:1px;background:linear-gradient(90deg,#ff0000 0px,#ff0800 206px,#ff1d00 254px,#ff4e00 293px,#ff8e00 324.5px)"></i><i style="top:220px;height:1px;background:linear-gradient(90deg,#ff0000 0px,#ff0800 214px,#ff1f00 263px,#ff5400 306px,#ff7700 324.5px)"></i><i style="top:221px;height:1px;background:linear-gradient(90deg,#ff0000 0px,#ff0800 222px,#ff2000 272px,#ff5200 315px,#ff6300 324.5px)"></i><i style="top:222px;height:1px;background:linear-gradient(90deg,#ff0000 0px,#ff0800 229px,#ff2100 281px,#ff4d00 322px,#ff5100 324.5px)"></i><i style="top:223px;height:1px;background:linear-gradient(90deg,#ff0000 0px,#ff0800 237px,#ff2400 295px,#ff4100 324.5px)"></i><i style="top:224px;height:1px;background:linear-gradient(90deg,#ff0000 0px,#ff0800 244px,#ff2500 308px,#ff3300 324.5px)"></i><i style="top:225px;height:1px;background:linear-gradient(90deg,#ff0000 0px,#ff0700 251px,#ff2400 320px,#ff2800 324.5px)"></i><i style="top:226px;height:1px;background:linear-gradient(90deg,#ff0000 0px,#ff0700 259px,#ff1e00 324.5px)"></i><i style="top:227px;height:1px;background:linear-gradient(90deg,#ff0000 0px,#ff0700 268px,#ff1700 324.5px)"></i><i style="top:228px;height:1px;background:linear-gradient(90deg,#ff0000 0px,#ff0700 279px,#ff1100 324.5px)"></i><i style="top:229px;height:1px;background:linear-gradient(90deg,#ff0000 0px,#ff0700 294px,#ff0c00 324.5px)"></i><i style="top:230px;height:1px;background:linear-gradient(90deg,#ff0000 0px,#ff0700 311px,#ff0900 324.5px)"></i><i style="top:231px;height:1px;background:linear-gradient(90deg,#ff0000 0px,#ff0600 324.5px)"></i><i style="top:232px;height:1px;background:linear-gradient(90deg,#ff0000 0px,#ff0400 324.5px)"></i><i style="top:233px;height:1px;background:linear-gradient(90deg,#ff0000 0px,#ff0300 324.5px)"></i><i style="top:234px;height:1px;background:linear-gradient(90deg,#ff0000 0px,#ff0200 324.5px)"></i><i style="top:235px;height:1px;background:linear-gradient(90deg,#ff0000 0px,#ff0100 324.5px)"></i><i style="top:236px;height:1px;background:linear-gradient(90deg,#ff0000 0px,#ff0100 324.5px)"></i><i style="top:237px;height:1px;background:linear-gradient(90deg,#ff0000 0px,#ff0000 324.5px)"></i><i style="top:238px;height:1px;background:linear-gradient(90deg,#ff0000 0px,#ff0000 324.5px)"></i><i style="top:239px;height:1px;background:linear-gradient(90deg,#ff0000 0px,#ff0000 324.5px)"></i><i style="top:240px;height:1px;background:linear-gradient(90deg,#ff0000 0px,#ff0000 324.5px)"></i><i style="top:241px;height:1px;background:linear-gradient(90deg,#ff0000 0px,#ff0000 324.5px)"></i><i style="top:242px;height:1px;background:linear-gradient(90deg,#ff0000 0px,#ff0000 324.5px)"></i><i style="top:243px;height:1px;background:linear-gradient(90deg,#ff0000 0px,#ff0000 324.5px)"></i><i style="top:244px;height:1px;background:linear-gradient(90deg,#ff0000 0px,#ff0000 324.5px)"></i><i style="top:245px;height:1px;background:linear-gradient(90deg,#ff0000 0px,#ff0000 324.5px)"></i><i style="top:246px;height:1px;background:linear-gradient(90deg,#ff0000 0px,#ff0000 324.5px)"></i><i style="top:247px;height:1px;background:linear-gradient(90deg,#ff0000 0px,#ff0000 324.5px)"></i><i style="top:248px;height:1px;background:linear-gradient(90deg,#ff0000 0px,#ff0000 324.5px)"></i><i style="top:249px;height:1px;background:linear-gradient(90deg,#ff0000 0px,#ff0000 324.5px)"></i><i style="top:250px;height:0.4px;background:linear-gradient(90deg,#ff0000 0px,#ff0000 324.5px)"></i></div>
<svg width="800" height="377" viewBox="0 0 800 377">
<text x="29.5" y="29.3" font-size="28.5" text-anchor="start">A</text>
<line x1="57" y1="55.5" x2="57" y2="305.5" stroke="#000" stroke-width="1" shape-rendering="crispEdges"/>
<line x1="50.5" y1="305.5" x2="57" y2="305.5" stroke="#000" stroke-width="1" shape-rendering="crispEdges"/>
<line x1="50.5" y1="280.5" x2="57" y2="280.5" stroke="#000" stroke-width="1" shape-rendering="crispEdges"/>
<line x1="50.5" y1="255.5" x2="57" y2="255.5" stroke="#000" stroke-width="1" shape-rendering="crispEdges"/>
<line x1="50.5" y1="230.5" x2="57" y2="230.5" stroke="#000" stroke-width="1" shape-rendering="crispEdges"/>
<line x1="50.5" y1="205.5" x2="57" y2="205.5" stroke="#000" stroke-width="1" shape-rendering="crispEdges"/>
<line x1="50.5" y1="180.5" x2="57" y2="180.5" stroke="#000" stroke-width="1" shape-rendering="crispEdges"/>
<line x1="50.5" y1="155.5" x2="57" y2="155.5" stroke="#000" stroke-width="1" shape-rendering="crispEdges"/>
<line x1="50.5" y1="130.5" x2="57" y2="130.5" stroke="#000" stroke-width="1" shape-rendering="crispEdges"/>
<line x1="50.5" y1="105.5" x2="57" y2="105.5" stroke="#000" stroke-width="1" shape-rendering="crispEdges"/>
<line x1="50.5" y1="80.5" x2="57" y2="80.5" stroke="#000" stroke-width="1" shape-rendering="crispEdges"/>
<line x1="50.5" y1="55.5" x2="57" y2="55.5" stroke="#000" stroke-width="1" shape-rendering="crispEdges"/>
<text x="43" y="309.5" font-size="11" text-anchor="end">0.0</text>
<text x="43" y="259.5" font-size="11" text-anchor="end">0.2</text>
<text x="43" y="209.5" font-size="11" text-anchor="end">0.4</text>
<text x="43" y="159.5" font-size="11" text-anchor="end">0.6</text>
<text x="43" y="109.5" font-size="11" text-anchor="end">0.8</text>
<text x="43" y="59.5" font-size="11" text-anchor="end">1.0</text>
<line x1="70.4" y1="315.2" x2="394.2" y2="315.2" stroke="#000" stroke-width="1" shape-rendering="crispEdges"/>
<line x1="70.4" y1="315" x2="70.4" y2="322" stroke="#000" stroke-width="1" shape-rendering="crispEdges"/>
<line x1="102.78" y1="315" x2="102.78" y2="322" stroke="#000" stroke-width="1" shape-rendering="crispEdges"/>
<line x1="135.16" y1="315" x2="135.16" y2="322" stroke="#000" stroke-width="1" shape-rendering="crispEdges"/>
<line x1="167.54" y1="315" x2="167.54" y2="322" stroke="#000" stroke-width="1" shape-rendering="crispEdges"/>
<line x1="199.92" y1="315" x2="199.92" y2="322" stroke="#000" stroke-width="1" shape-rendering="crispEdges"/>
<line x1="232.3" y1="315" x2="232.3" y2="322" stroke="#000" stroke-width="1" shape-rendering="crispEdges"/>
<line x1="264.68" y1="315" x2="264.68" y2="322" stroke="#000" stroke-width="1" shape-rendering="crispEdges"/>
<line x1="297.06" y1="315" x2="297.06" y2="322" stroke="#000" stroke-width="1" shape-rendering="crispEdges"/>
<line x1="329.44" y1="315" x2="329.44" y2="322" stroke="#000" stroke-width="1" shape-rendering="crispEdges"/>
<line x1="361.82" y1="315" x2="361.82" y2="322" stroke="#000" stroke-width="1" shape-rendering="crispEdges"/>
<line x1="394.2" y1="315" x2="394.2" y2="322" stroke="#000" stroke-width="1" shape-rendering="crispEdges"/>
<text x="70.4" y="340" font-size="11" text-anchor="middle">0.0</text>
<text x="135.16" y="340" font-size="11" text-anchor="middle">0.2</text>
<text x="199.92" y="340" font-size="11" text-anchor="middle">0.4</text>
<text x="264.68" y="340" font-size="11" text-anchor="middle">0.6</text>
<text x="329.44" y="340" font-size="11" text-anchor="middle">0.8</text>
<text x="394.2" y="340" font-size="11" text-anchor="middle">1.0</text>
<text x="231.8" y="360.6" font-size="12" text-anchor="middle">Village-level vaccination coverage</text>
<text x="0" y="0" font-size="12.2" text-anchor="middle" transform="translate(21,182.9) rotate(-90)">Proportion of immune animals in a vaccinated village</text>
<polyline points="255.8,55.5 255.8,182.2 268,193 277.1,193.3 280.8,202.1 285,204.7 288.2,206.3 296.7,206.5 299.4,210.5 303.4,212.7 312.6,213.1 318.3,215.2 329.6,215.2 332.9,218.9 341.5,219.1 344.8,223.1 381.3,223.1 385.3,229.2 394.5,229.2" fill="none" stroke="#fff" stroke-width="2.4" stroke-linejoin="round"/>
<defs><linearGradient id="cb" x1="0" y1="1" x2="0" y2="0"><stop offset="0" stop-color="#ff0000"/><stop offset=".5" stop-color="#ffff00"/><stop offset=".75" stop-color="#00ffff"/><stop offset="1" stop-color="#0000ff"/></linearGradient></defs>
<rect x="421" y="55.5" width="12.5" height="250" fill="url(#cb)"/>
<line x1="433.5" y1="55.5" x2="433.5" y2="305.5" stroke="#000" stroke-width="1" shape-rendering="crispEdges"/>
<line x1="433.5" y1="305.5" x2="440" y2="305.5" stroke="#000" stroke-width="1" shape-rendering="crispEdges"/>
<text x="447.2" y="309.5" font-size="11" text-anchor="start">0.0</text>
<line x1="433.5" y1="280.5" x2="440" y2="280.5" stroke="#000" stroke-width="1" shape-rendering="crispEdges"/>
<text x="447.2" y="284.5" font-size="11" text-anchor="start">0.1</text>
<line x1="433.5" y1="255.5" x2="440" y2="255.5" stroke="#000" stroke-width="1" shape-rendering="crispEdges"/>
<text x="447.2" y="259.5" font-size="11" text-anchor="start">0.2</text>
<line x1="433.5" y1="230.5" x2="440" y2="230.5" stroke="#000" stroke-width="1" shape-rendering="crispEdges"/>
<text x="447.2" y="234.5" font-size="11" text-anchor="start">0.3</text>
<line x1="433.5" y1="205.5" x2="440" y2="205.5" stroke="#000" stroke-width="1" shape-rendering="crispEdges"/>
<text x="447.2" y="209.5" font-size="11" text-anchor="start">0.4</text>
<line x1="433.5" y1="180.5" x2="440" y2="180.5" stroke="#000" stroke-width="1" shape-rendering="crispEdges"/>
<text x="447.2" y="184.5" font-size="11" text-anchor="start">0.5</text>
<line x1="433.5" y1="155.5" x2="440" y2="155.5" stroke="#000" stroke-width="1" shape-rendering="crispEdges"/>
<text x="447.2" y="159.5" font-size="11" text-anchor="start">0.6</text>
<line x1="433.5" y1="130.5" x2="440" y2="130.5" stroke="#000" stroke-width="1" shape-rendering="crispEdges"/>
<text x="447.2" y="134.5" font-size="11" text-anchor="start">0.7</text>
<line x1="433.5" y1="105.5" x2="440" y2="105.5" stroke="#000" stroke-width="1" shape-rendering="crispEdges"/>
<text x="447.2" y="109.5" font-size="11" text-anchor="start">0.8</text>
<line x1="433.5" y1="80.5" x2="440" y2="80.5" stroke="#000" stroke-width="1" shape-rendering="crispEdges"/>
<text x="447.2" y="84.5" font-size="11" text-anchor="start">0.9</text>
<line x1="433.5" y1="55.5" x2="440" y2="55.5" stroke="#000" stroke-width="1" shape-rendering="crispEdges"/>
<text x="447.2" y="59.5" font-size="11" text-anchor="start">1.0</text>
<text x="0" y="0" font-size="12" text-anchor="middle" transform="translate(479,179.3) rotate(-90)">Probability of disease elimination</text>
<text x="514.6" y="29.3" font-size="28.5" text-anchor="start">B</text>
<text x="700.6" y="30.2" font-size="28.5" text-anchor="start">C</text>
<text x="629.6" y="43.8" font-size="17" text-anchor="middle" font-weight="bold">Turn-over: 40%</text>
<line x1="556" y1="49.5" x2="556" y2="141.7" stroke="#000" stroke-width="1" shape-rendering="crispEdges"/>
<line x1="549.6" y1="141.7" x2="556" y2="141.7" stroke="#000" stroke-width="1" shape-rendering="crispEdges"/>
<line x1="549.8" y1="132.48" x2="554.8" y2="132.48" stroke="#c4c4c4" stroke-width="1.6" shape-rendering="auto"/>
<line x1="549.6" y1="123.26" x2="556" y2="123.26" stroke="#000" stroke-width="1" shape-rendering="crispEdges"/>
<line x1="549.8" y1="114.04" x2="554.8" y2="114.04" stroke="#c4c4c4" stroke-width="1.6" shape-rendering="auto"/>
<line x1="549.6" y1="104.82" x2="556" y2="104.82" stroke="#000" stroke-width="1" shape-rendering="crispEdges"/>
<line x1="549.8" y1="95.6" x2="554.8" y2="95.6" stroke="#c4c4c4" stroke-width="1.6" shape-rendering="auto"/>
<line x1="549.6" y1="86.38" x2="556" y2="86.38" stroke="#000" stroke-width="1" shape-rendering="crispEdges"/>
<line x1="549.8" y1="77.16" x2="554.8" y2="77.16" stroke="#c4c4c4" stroke-width="1.6" shape-rendering="auto"/>
<line x1="549.6" y1="67.94" x2="556" y2="67.94" stroke="#000" stroke-width="1" shape-rendering="crispEdges"/>
<line x1="549.8" y1="58.72" x2="554.8" y2="58.72" stroke="#c4c4c4" stroke-width="1.6" shape-rendering="auto"/>
<line x1="549.6" y1="49.5" x2="556" y2="49.5" stroke="#000" stroke-width="1" shape-rendering="crispEdges"/>
<text x="542.5" y="145.7" font-size="11" text-anchor="end">0.0</text>
<text x="542.5" y="127.26" font-size="11" text-anchor="end">0.2</text>
<text x="542.5" y="108.82" font-size="11" text-anchor="end">0.4</text>
<text x="542.5" y="90.38" font-size="11" text-anchor="end">0.6</text>
<text x="542.5" y="71.94" font-size="11" text-anchor="end">0.8</text>
<text x="542.5" y="53.5" font-size="11" text-anchor="end">1.0</text>
<rect x="562.6" y="84.536" width="9.55" height="57.164" fill="#d3d3d3"/>
<rect x="572.15" y="84.536" width="9.55" height="57.164" fill="#a9a9a9"/>
<rect x="581.7" y="84.536" width="9.55" height="57.164" fill="#000"/>
<text x="577" y="156.8" font-size="11" text-anchor="middle">1</text>
<rect x="593.7" y="84.536" width="9.55" height="57.164" fill="#d3d3d3"/>
<rect x="603.25" y="141.1" width="9.55" height="0.6" fill="#bbb"/>
<rect x="612.8" y="118.65" width="9.55" height="23.05" fill="#000"/>
<text x="608.1" y="156.8" font-size="11" text-anchor="middle">2</text>
<line x1="592.3" y1="49.5" x2="592.3" y2="141.7" stroke="#999" stroke-width="1" shape-rendering="crispEdges" stroke-dasharray="5.3,4.5"/>
<rect x="624.8" y="84.536" width="9.55" height="57.164" fill="#d3d3d3"/>
<rect x="634.35" y="141.1" width="9.55" height="0.6" fill="#bbb"/>
<rect x="643.9" y="118.65" width="9.55" height="23.05" fill="#000"/>
<text x="639.2" y="156.8" font-size="11" text-anchor="middle">3</text>
<line x1="623.4" y1="49.5" x2="623.4" y2="141.7" stroke="#999" stroke-width="1" shape-rendering="crispEdges" stroke-dasharray="5.3,4.5"/>
<rect x="655.9" y="84.536" width="9.55" height="57.164" fill="#d3d3d3"/>
<rect x="665.45" y="141.1" width="9.55" height="0.6" fill="#bbb"/>
<rect x="675" y="118.65" width="9.55" height="23.05" fill="#000"/>
<text x="670.3" y="156.8" font-size="11" text-anchor="middle">4</text>
<line x1="654.5" y1="49.5" x2="654.5" y2="141.7" stroke="#999" stroke-width="1" shape-rendering="crispEdges" stroke-dasharray="5.3,4.5"/>
<text x="623.7" y="177.3" font-size="12" text-anchor="middle">Round</text>
<text x="0" y="0" font-size="12" text-anchor="middle" transform="translate(507,95.3) rotate(-90)">Within-village</text>
<text x="0" y="0" font-size="12" text-anchor="middle" transform="translate(521,95.6) rotate(-90)">vaccination coverage</text>
<line x1="746" y1="49.5" x2="746" y2="141.7" stroke="#000" stroke-width="1" shape-rendering="crispEdges"/>
<line x1="739.6" y1="141.7" x2="746" y2="141.7" stroke="#000" stroke-width="1" shape-rendering="crispEdges"/>
<line x1="739.8" y1="132.48" x2="744.8" y2="132.48" stroke="#c4c4c4" stroke-width="1.6" shape-rendering="auto"/>
<line x1="739.6" y1="123.26" x2="746" y2="123.26" stroke="#000" stroke-width="1" shape-rendering="crispEdges"/>
<line x1="739.8" y1="114.04" x2="744.8" y2="114.04" stroke="#c4c4c4" stroke-width="1.6" shape-rendering="auto"/>
<line x1="739.6" y1="104.82" x2="746" y2="104.82" stroke="#000" stroke-width="1" shape-rendering="crispEdges"/>
<line x1="739.8" y1="95.6" x2="744.8" y2="95.6" stroke="#c4c4c4" stroke-width="1.6" shape-rendering="auto"/>
<line x1="739.6" y1="86.38" x2="746" y2="86.38" stroke="#000" stroke-width="1" shape-rendering="crispEdges"/>
<line x1="739.8" y1="77.16" x2="744.8" y2="77.16" stroke="#c4c4c4" stroke-width="1.6" shape-rendering="auto"/>
<line x1="739.6" y1="67.94" x2="746" y2="67.94" stroke="#000" stroke-width="1" shape-rendering="crispEdges"/>
<line x1="739.8" y1="58.72" x2="744.8" y2="58.72" stroke="#c4c4c4" stroke-width="1.6" shape-rendering="auto"/>
<line x1="739.6" y1="49.5" x2="746" y2="49.5" stroke="#000" stroke-width="1" shape-rendering="crispEdges"/>
<text x="731" y="145.7" font-size="11" text-anchor="end">0</text>
<text x="731" y="127.26" font-size="11" text-anchor="end">2</text>
<text x="731" y="108.82" font-size="11" text-anchor="end">4</text>
<text x="731" y="90.38" font-size="11" text-anchor="end">6</text>
<text x="731" y="71.94" font-size="11" text-anchor="end">8</text>
<text x="731" y="53.5" font-size="11" text-anchor="end">10</text>
<rect x="747.3" y="71.3514" width="9.7" height="70.3486" fill="#000"/>
<rect x="758.15" y="113.763" width="9.7" height="27.9366" fill="#000"/>
<rect x="769" y="113.763" width="9.7" height="27.9366" fill="#000"/>
<rect x="779.85" y="113.763" width="9.7" height="27.9366" fill="#000"/>
<text x="752.4" y="156.8" font-size="11" text-anchor="middle">1</text>
<text x="773.5" y="156.8" font-size="11" text-anchor="middle">3</text>
<text x="768.2" y="177.3" font-size="12" text-anchor="middle">Round</text>
<text x="0" y="0" font-size="12" text-anchor="middle" transform="translate(706,94.5) rotate(-90)">Number of doses (x10<tspan dy="-5" font-size="9">6</tspan><tspan dy="5">)</tspan></text>
<text x="514.6" y="185.9" font-size="28.5" text-anchor="start">D</text>
<text x="700.6" y="185.1" font-size="28.5" text-anchor="start">E</text>
<text x="629.6" y="213" font-size="17" text-anchor="middle" font-weight="bold">Turn-over: 51%</text>
<line x1="556" y1="218.8" x2="556" y2="311" stroke="#000" stroke-width="1" shape-rendering="crispEdges"/>
<line x1="549.6" y1="311" x2="556" y2="311" stroke="#000" stroke-width="1" shape-rendering="crispEdges"/>
<line x1="549.8" y1="301.78" x2="554.8" y2="301.78" stroke="#c4c4c4" stroke-width="1.6" shape-rendering="auto"/>
<line x1="549.6" y1="292.56" x2="556" y2="292.56" stroke="#000" stroke-width="1" shape-rendering="crispEdges"/>
<line x1="549.8" y1="283.34" x2="554.8" y2="283.34" stroke="#c4c4c4" stroke-width="1.6" shape-rendering="auto"/>
<line x1="549.6" y1="274.12" x2="556" y2="274.12" stroke="#000" stroke-width="1" shape-rendering="crispEdges"/>
<line x1="549.8" y1="264.9" x2="554.8" y2="264.9" stroke="#c4c4c4" stroke-width="1.6" shape-rendering="auto"/>
<line x1="549.6" y1="255.68" x2="556" y2="255.68" stroke="#000" stroke-width="1" shape-rendering="crispEdges"/>
<line x1="549.8" y1="246.46" x2="554.8" y2="246.46" stroke="#c4c4c4" stroke-width="1.6" shape-rendering="auto"/>
<line x1="549.6" y1="237.24" x2="556" y2="237.24" stroke="#000" stroke-width="1" shape-rendering="crispEdges"/>
<line x1="549.8" y1="228.02" x2="554.8" y2="228.02" stroke="#c4c4c4" stroke-width="1.6" shape-rendering="auto"/>
<line x1="549.6" y1="218.8" x2="556" y2="218.8" stroke="#000" stroke-width="1" shape-rendering="crispEdges"/>
<text x="542.5" y="315" font-size="11" text-anchor="end">0.0</text>
<text x="542.5" y="296.56" font-size="11" text-anchor="end">0.2</text>
<text x="542.5" y="278.12" font-size="11" text-anchor="end">0.4</text>
<text x="542.5" y="259.68" font-size="11" text-anchor="end">0.6</text>
<text x="542.5" y="241.24" font-size="11" text-anchor="end">0.8</text>
<text x="542.5" y="222.8" font-size="11" text-anchor="end">1.0</text>
<rect x="562.6" y="240.928" width="9.55" height="70.072" fill="#d3d3d3"/>
<rect x="572.15" y="240.928" width="9.55" height="70.072" fill="#a9a9a9"/>
<rect x="581.7" y="240.928" width="9.55" height="70.072" fill="#000"/>
<text x="577" y="326.1" font-size="11" text-anchor="middle">1</text>
<rect x="593.7" y="240.928" width="9.55" height="70.072" fill="#d3d3d3"/>
<rect x="603.25" y="310.4" width="9.55" height="0.6" fill="#bbb"/>
<rect x="612.8" y="274.581" width="9.55" height="36.419" fill="#000"/>
<text x="608.1" y="326.1" font-size="11" text-anchor="middle">2</text>
<line x1="592.3" y1="218.8" x2="592.3" y2="311" stroke="#999" stroke-width="1" shape-rendering="crispEdges" stroke-dasharray="5.3,4.5"/>
<rect x="624.8" y="240.928" width="9.55" height="70.072" fill="#d3d3d3"/>
<rect x="634.35" y="310.4" width="9.55" height="0.6" fill="#bbb"/>
<rect x="643.9" y="274.581" width="9.55" height="36.419" fill="#000"/>
<text x="639.2" y="326.1" font-size="11" text-anchor="middle">3</text>
<line x1="623.4" y1="218.8" x2="623.4" y2="311" stroke="#999" stroke-width="1" shape-rendering="crispEdges" stroke-dasharray="5.3,4.5"/>
<rect x="655.9" y="240.928" width="9.55" height="70.072" fill="#d3d3d3"/>
<rect x="665.45" y="310.4" width="9.55" height="0.6" fill="#bbb"/>
<rect x="675" y="274.581" width="9.55" height="36.419" fill="#000"/>
<text x="670.3" y="326.1" font-size="11" text-anchor="middle">4</text>
<line x1="654.5" y1="218.8" x2="654.5" y2="311" stroke="#999" stroke-width="1" shape-rendering="crispEdges" stroke-dasharray="5.3,4.5"/>
<text x="623.7" y="346.6" font-size="12" text-anchor="middle">Round</text>
<text x="0" y="0" font-size="12" text-anchor="middle" transform="translate(507,264.6) rotate(-90)">Within-village</text>
<text x="0" y="0" font-size="12" text-anchor="middle" transform="translate(521,264.9) rotate(-90)">vaccination coverage</text>
<line x1="746" y1="218.8" x2="746" y2="311" stroke="#000" stroke-width="1" shape-rendering="crispEdges"/>
<line x1="739.6" y1="311" x2="746" y2="311" stroke="#000" stroke-width="1" shape-rendering="crispEdges"/>
<line x1="739.8" y1="301.78" x2="744.8" y2="301.78" stroke="#c4c4c4" stroke-width="1.6" shape-rendering="auto"/>
<line x1="739.6" y1="292.56" x2="746" y2="292.56" stroke="#000" stroke-width="1" shape-rendering="crispEdges"/>
<line x1="739.8" y1="283.34" x2="744.8" y2="283.34" stroke="#c4c4c4" stroke-width="1.6" shape-rendering="auto"/>
<line x1="739.6" y1="274.12" x2="746" y2="274.12" stroke="#000" stroke-width="1" shape-rendering="crispEdges"/>
<line x1="739.8" y1="264.9" x2="744.8" y2="264.9" stroke="#c4c4c4" stroke-width="1.6" shape-rendering="auto"/>
<line x1="739.6" y1="255.68" x2="746" y2="255.68" stroke="#000" stroke-width="1" shape-rendering="crispEdges"/>
<line x1="739.8" y1="246.46" x2="744.8" y2="246.46" stroke="#c4c4c4" stroke-width="1.6" shape-rendering="auto"/>
<line x1="739.6" y1="237.24" x2="746" y2="237.24" stroke="#000" stroke-width="1" shape-rendering="crispEdges"/>
<line x1="739.8" y1="228.02" x2="744.8" y2="228.02" stroke="#c4c4c4" stroke-width="1.6" shape-rendering="auto"/>
<line x1="739.6" y1="218.8" x2="746" y2="218.8" stroke="#000" stroke-width="1" shape-rendering="crispEdges"/>
<text x="731" y="315" font-size="11" text-anchor="end">0</text>
<text x="731" y="296.56" font-size="11" text-anchor="end">2</text>
<text x="731" y="278.12" font-size="11" text-anchor="end">4</text>
<text x="731" y="259.68" font-size="11" text-anchor="end">6</text>
<text x="731" y="241.24" font-size="11" text-anchor="end">8</text>
<text x="731" y="222.8" font-size="11" text-anchor="end">10</text>
<rect x="747.3" y="225.254" width="9.7" height="85.746" fill="#000"/>
<rect x="758.15" y="266.375" width="9.7" height="44.6248" fill="#000"/>
<rect x="769" y="266.375" width="9.7" height="44.6248" fill="#000"/>
<rect x="779.85" y="266.375" width="9.7" height="44.6248" fill="#000"/>
<text x="752.4" y="326.1" font-size="11" text-anchor="middle">1</text>
<text x="773.5" y="326.1" font-size="11" text-anchor="middle">3</text>
<text x="768.2" y="346.6" font-size="12" text-anchor="middle">Round</text>
<text x="0" y="0" font-size="12" text-anchor="middle" transform="translate(706,263.8) rotate(-90)">Number of doses (x10<tspan dy="-5" font-size="9">6</tspan><tspan dy="5">)</tspan></text>
<rect x="550.1" y="360" width="7.5" height="7" fill="#d3d3d3"/>
<text x="569.3" y="368" font-size="12.7" text-anchor="start">young</text>
<rect x="616" y="360" width="7.5" height="7" fill="#a9a9a9"/>
<text x="635.5" y="368" font-size="12.7" text-anchor="start">adults</text>
<rect x="682.3" y="360" width="7.5" height="7" fill="#000"/>
<text x="701.5" y="368" font-size="12.7" text-anchor="start">all</text>
</svg>
</body></html>
